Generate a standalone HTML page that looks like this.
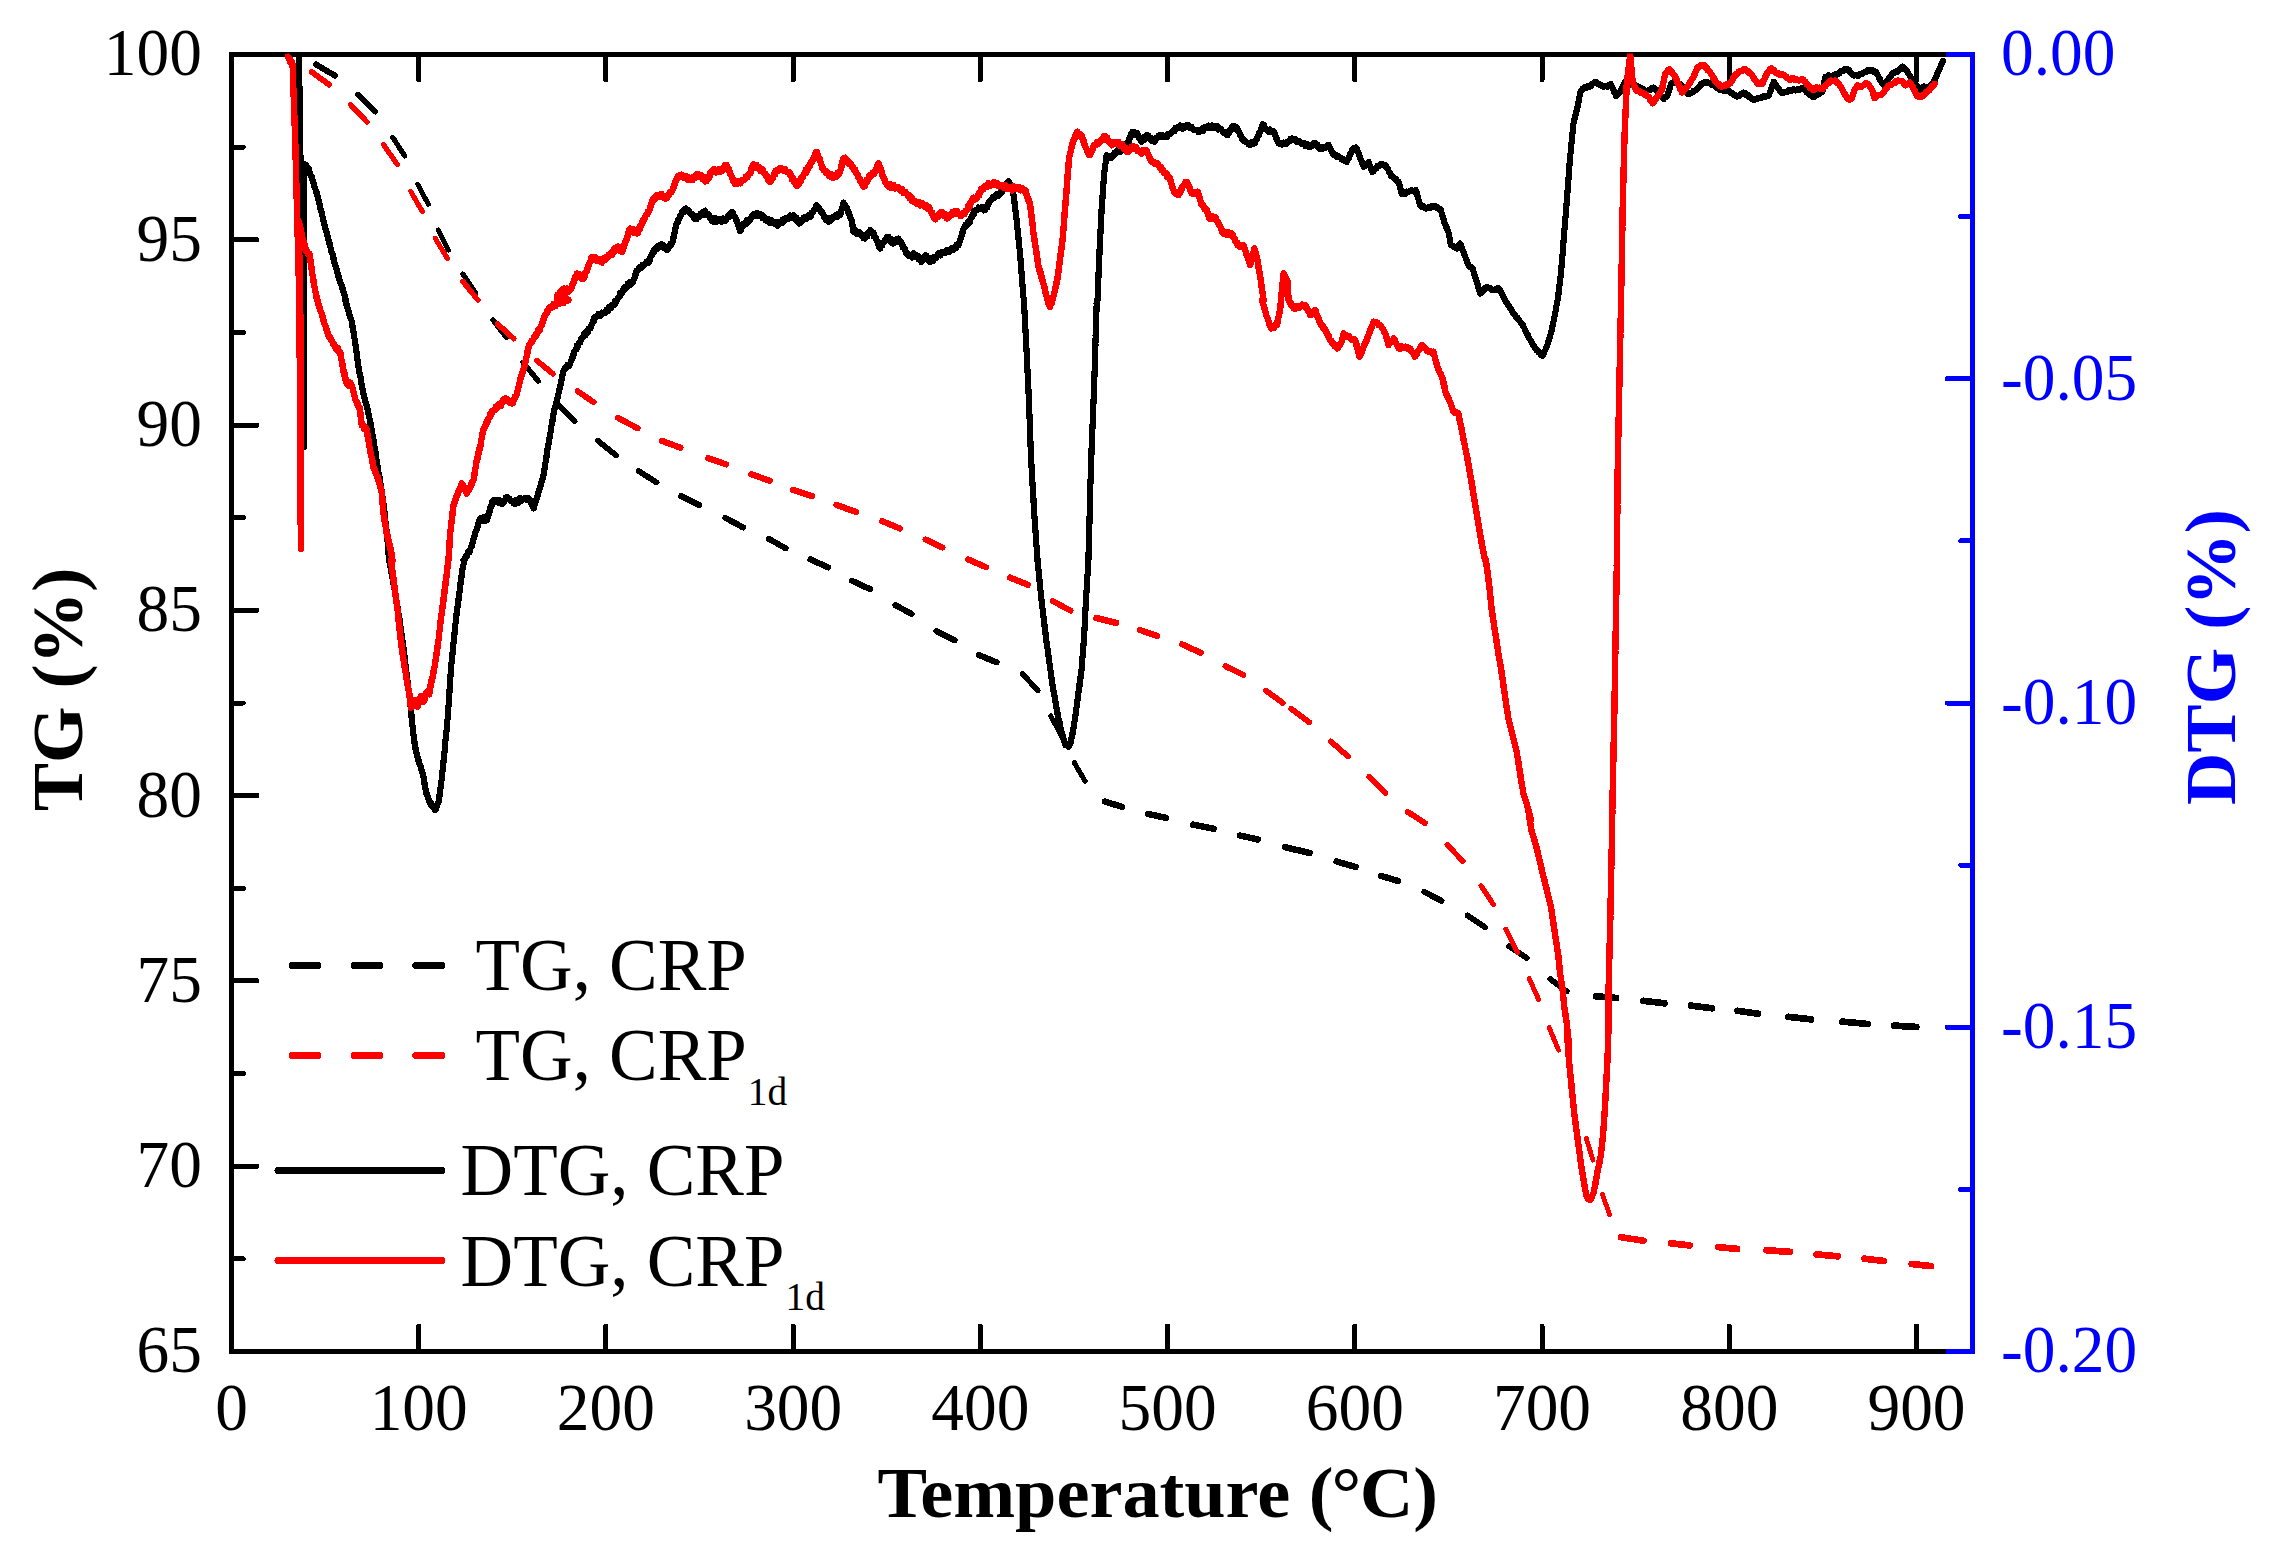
<!DOCTYPE html>
<html lang="en"><head><meta charset="utf-8"><title>TG / DTG curves</title>
<style>
html,body{margin:0;padding:0;background:#fff;}
body{width:2278px;height:1560px;overflow:hidden;}
svg{display:block;}
text{font-family:"Liberation Serif","Times New Roman",serif;}
.tk{font-size:68.5px;}
.lg{font-size:74px;}
.sub{font-size:40px;}
.ttl{font-size:72.5px;font-weight:bold;}
</style></head><body>
<svg width="2278" height="1560" viewBox="0 0 2278 1560">
<rect width="2278" height="1560" fill="#fff"/>
<g id="axes" fill="none" stroke-width="5" stroke-linecap="butt" shape-rendering="crispEdges">
<path d="M231.5 52.0 L231.5 1354.0" stroke="#000"/>
<path d="M229.0 54.5 L1946.0 54.5" stroke="#000"/>
<path d="M229.0 1351.5 L1946.0 1351.5" stroke="#000"/>
<path d="M1972.5 52.0 L1972.5 1354.0" stroke="#00f"/>
<path d="M1946 54.5 L1972.5 54.5 M1946 1351.5 L1972.5 1351.5" stroke="#00f"/>
</g>
<g id="ticks" fill="none" stroke-width="5" stroke-linecap="round" shape-rendering="crispEdges">
<path d="M418.7 54.5 L418.7 80.0 M418.7 1351.5 L418.7 1326.0 M605.9 54.5 L605.9 80.0 M605.9 1351.5 L605.9 1326.0 M793.2 54.5 L793.2 80.0 M793.2 1351.5 L793.2 1326.0 M980.4 54.5 L980.4 80.0 M980.4 1351.5 L980.4 1326.0 M1167.6 54.5 L1167.6 80.0 M1167.6 1351.5 L1167.6 1326.0 M1354.8 54.5 L1354.8 80.0 M1354.8 1351.5 L1354.8 1326.0 M1542.0 54.5 L1542.0 80.0 M1542.0 1351.5 L1542.0 1326.0 M1729.3 54.5 L1729.3 80.0 M1729.3 1351.5 L1729.3 1326.0 M1916.5 54.5 L1916.5 80.0 M1916.5 1351.5 L1916.5 1326.0 M231.5 147.1 L243.3 147.1 M231.5 239.8 L257.0 239.8 M231.5 332.4 L243.3 332.4 M231.5 425.1 L257.0 425.1 M231.5 517.7 L243.3 517.7 M231.5 610.4 L257.0 610.4 M231.5 703.0 L243.3 703.0 M231.5 795.6 L257.0 795.6 M231.5 888.3 L243.3 888.3 M231.5 980.9 L257.0 980.9 M231.5 1073.6 L243.3 1073.6 M231.5 1166.2 L257.0 1166.2 M231.5 1258.9 L243.3 1258.9 " stroke="#000"/>
<path d="M1972.5 216.6 L1960.7 216.6 M1972.5 378.8 L1947.0 378.8 M1972.5 540.9 L1960.7 540.9 M1972.5 703.0 L1947.0 703.0 M1972.5 865.1 L1960.7 865.1 M1972.5 1027.2 L1947.0 1027.2 M1972.5 1189.4 L1960.7 1189.4 " stroke="#00f"/>
</g>
<clipPath id="plotclip"><rect x="231.5" y="53.5" width="1741.0" height="1298.0"/></clipPath>
<g id="curves" clip-path="url(#plotclip)" shape-rendering="crispEdges">
<g fill="none" stroke="#000" stroke-linecap="round">
<path d="M316.0 64.4 L334.9 75.6" stroke-width="6.0"/>
<path d="M358.1 94.4 L375.3 111.6" stroke-width="5.6"/>
<path d="M392.7 137.4 L404.8 155.9" stroke-width="5.2"/>
<path d="M417.6 184.1 L428.3 204.2" stroke-width="5.0"/>
<path d="M438.3 229.9 L448.4 250.1" stroke-width="5.0"/>
<path d="M462.8 274.1 L475.6 292.9" stroke-width="5.2"/>
<path d="M493.0 319.8 L506.5 337.7" stroke-width="5.3"/>
<path d="M523.1 362.4 L538.2 381.1" stroke-width="5.4"/>
<path d="M557.4 404.0 L574.7 421.2" stroke-width="5.6"/>
<path d="M597.7 440.6 L616.2 455.5" stroke-width="5.7"/>
<path d="M638.8 471.2 L656.5 482.4" stroke-width="5.9"/>
<path d="M681.2 496.2 L698.9 505.0" stroke-width="6.1"/>
<path d="M725.3 517.8 L743.2 527.5" stroke-width="6.1"/>
<path d="M768.7 538.8 L785.7 548.3" stroke-width="6.0"/>
<path d="M810.5 559.4 L828.2 567.4" stroke-width="6.2"/>
<path d="M852.2 580.9 L869.9 589.1" stroke-width="6.2"/>
<path d="M895.4 605.2 L911.7 614.0" stroke-width="6.1"/>
<path d="M936.4 631.1 L954.6 640.2" stroke-width="6.1"/>
<path d="M978.7 655.0 L996.5 662.3" stroke-width="6.2"/>
<path d="M1022.5 674.0 L1037.8 690.4" stroke-width="5.5"/>
<path d="M1050.8 715.9 L1062.6 738.5" stroke-width="5.0"/>
<path d="M1074.3 762.6 L1085.0 781.1" stroke-width="5.1"/>
<path d="M1104.8 801.5 L1122.0 806.8" stroke-width="6.4"/>
<path d="M1148.2 813.9 L1166.1 817.9" stroke-width="6.5"/>
<path d="M1193.3 824.7 L1213.7 828.7" stroke-width="6.6"/>
<path d="M1240.0 835.5 L1257.9 839.5" stroke-width="6.5"/>
<path d="M1285.0 847.2 L1309.6 852.9" stroke-width="6.5"/>
<path d="M1336.6 861.5 L1355.6 867.0" stroke-width="6.4"/>
<path d="M1380.8 875.8 L1398.1 881.0" stroke-width="6.4"/>
<path d="M1424.4 891.9 L1441.5 900.8" stroke-width="6.1"/>
<path d="M1467.6 915.5 L1485.0 927.3" stroke-width="5.9"/>
<path d="M1509.3 946.3 L1526.7 958.1" stroke-width="5.9"/>
<path d="M1550.2 979.0 L1566.8 991.4" stroke-width="5.8"/>
<path d="M1595.9 996.2 L1616.1 998.0" stroke-width="6.7"/>
<path d="M1643.4 1000.8 L1664.5 1003.3" stroke-width="6.7"/>
<path d="M1690.9 1005.6 L1712.0 1008.2" stroke-width="6.7"/>
<path d="M1737.6 1010.8 L1757.8 1013.7" stroke-width="6.7"/>
<path d="M1788.4 1016.8 L1811.1 1019.4" stroke-width="6.7"/>
<path d="M1842.3 1021.6 L1867.8 1024.0" stroke-width="6.7"/>
<path d="M1894.3 1025.6 L1916.2 1027.0" stroke-width="6.8"/>
</g>
<g fill="none" stroke="#f00" stroke-linecap="round">
<path d="M311.7 72.0 L329.1 84.6" stroke-width="5.8"/>
<path d="M350.6 104.7 L366.9 121.9" stroke-width="5.5"/>
<path d="M383.6 144.8 L397.2 164.3" stroke-width="5.3"/>
<path d="M410.9 191.6 L422.4 211.7" stroke-width="5.1"/>
<path d="M435.2 238.3 L447.3 258.4" stroke-width="5.1"/>
<path d="M462.9 281.5 L477.8 300.0" stroke-width="5.4"/>
<path d="M497.5 323.9 L513.7 338.6" stroke-width="5.6"/>
<path d="M536.8 360.5 L552.8 373.7" stroke-width="5.7"/>
<path d="M577.7 391.2 L593.6 402.2" stroke-width="5.9"/>
<path d="M618.0 417.8 L637.6 428.3" stroke-width="6.1"/>
<path d="M662.1 440.9 L680.4 447.7" stroke-width="6.3"/>
<path d="M708.1 458.3 L726.2 464.4" stroke-width="6.3"/>
<path d="M751.3 474.3 L769.7 480.7" stroke-width="6.3"/>
<path d="M793.2 490.0 L812.1 496.1" stroke-width="6.4"/>
<path d="M836.5 505.0 L856.3 512.0" stroke-width="6.3"/>
<path d="M882.3 521.1 L899.8 528.5" stroke-width="6.2"/>
<path d="M925.6 539.5 L942.4 547.5" stroke-width="6.1"/>
<path d="M968.1 559.4 L985.8 567.1" stroke-width="6.2"/>
<path d="M1009.9 577.5 L1027.9 584.7" stroke-width="6.3"/>
<path d="M1052.8 601.0 L1070.6 610.7" stroke-width="6.0"/>
<path d="M1096.5 618.1 L1116.1 622.8" stroke-width="6.5"/>
<path d="M1139.8 629.9 L1157.1 636.0" stroke-width="6.3"/>
<path d="M1182.1 644.3 L1200.6 652.8" stroke-width="6.2"/>
<path d="M1225.5 666.1 L1243.2 674.9" stroke-width="6.1"/>
<path d="M1266.1 690.6 L1282.7 703.0" stroke-width="5.8"/>
<path d="M1291.1 708.8 L1309.4 722.3" stroke-width="5.8"/>
<path d="M1330.9 741.4 L1347.9 756.4" stroke-width="5.7"/>
<path d="M1369.2 776.6 L1385.6 793.0" stroke-width="5.6"/>
<path d="M1407.9 812.0 L1424.9 823.0" stroke-width="5.9"/>
<path d="M1447.3 844.8 L1462.8 861.2" stroke-width="5.5"/>
<path d="M1481.1 885.8 L1493.2 904.3" stroke-width="5.2"/>
<path d="M1505.9 929.2 L1517.6 952.7" stroke-width="5.0"/>
<path d="M1529.1 978.4 L1538.6 999.4" stroke-width="4.9"/>
<path d="M1549.2 1027.6 L1558.5 1050.1" stroke-width="4.9"/>
<path d="M1586.4 1138.5 L1592.9 1160.1" stroke-width="4.8"/>
<path d="M1602.4 1194.2 L1609.5 1214.4" stroke-width="4.8"/>
<path d="M1620.9 1237.2 L1643.4 1240.7" stroke-width="6.6"/>
<path d="M1671.1 1243.3 L1689.6 1245.4" stroke-width="6.7"/>
<path d="M1718.2 1247.1 L1737.2 1248.9" stroke-width="6.7"/>
<path d="M1766.6 1250.2 L1789.9 1251.9" stroke-width="6.8"/>
<path d="M1816.7 1254.4 L1837.6 1256.3" stroke-width="6.7"/>
<path d="M1864.5 1258.7 L1883.7 1261.0" stroke-width="6.7"/>
<path d="M1911.8 1264.0 L1931.1 1266.1" stroke-width="6.7"/>
</g>
<path d="M299.0 54.5 L299.0 56.5 L299.0 58.4 L299.1 60.5 L299.1 62.4 L299.1 64.4 L299.1 66.4 L299.1 68.4 L299.2 70.3 L299.2 72.3 L299.2 74.3 L299.2 76.3 L299.3 78.2 L299.3 80.2 L299.3 82.2 L299.3 84.2 L299.4 86.1 L299.4 88.1 L299.4 90.1 L299.4 92.1 L299.4 94.1 L299.4 96.1 L299.5 98.0 L299.5 100.0 L299.5 102.0 L299.6 103.9 L299.6 105.9 L299.6 107.8 L299.7 109.8 L299.7 111.7 L299.7 113.7 L299.8 115.6 L299.8 117.6 L299.8 119.5 L299.8 121.5 L299.9 123.4 L299.9 125.4 L299.9 127.3 L300.0 129.3 L300.0 131.2 L300.0 133.2 L300.1 135.1 L300.1 137.1 L300.1 139.0 L300.2 141.0 L300.2 142.9 L300.2 144.9 L300.3 146.8 L300.3 148.8 L300.3 150.7 L300.3 152.7 L300.4 154.6 L300.4 156.6 L300.5 158.5 L300.5 160.5 L300.5 162.4 L300.5 164.4 L300.6 166.3 L300.6 168.3 L300.6 170.2 L300.7 172.2 L300.7 174.1 L300.7 176.1 L300.8 178.0 L300.8 180.0 L300.8 182.0 L300.9 183.9 L300.9 185.9 L300.9 187.8 L300.9 189.9 L301.0 191.8 L301.0 193.8 L301.0 195.7 L301.1 197.7 L301.1 199.6 L301.1 201.7 L301.2 203.6 L301.2 205.6 L301.2 207.5 L301.2 209.5 L301.3 211.4 L301.3 213.5 L301.3 215.4 L301.4 217.4 L301.4 219.3 L301.4 221.3 L301.5 223.3 L301.5 225.3 L301.5 227.2 L301.5 229.2 L301.6 231.1 L301.6 233.1 L301.6 235.1 L301.6 237.1 L301.7 239.0 L301.7 241.0 L301.8 242.9 L301.8 244.9 L301.8 246.9 L301.8 248.9 L301.9 250.8 L301.9 252.8 L301.9 254.7 L301.9 256.7 L302.0 258.7 L302.0 260.7 L302.0 262.6 L302.1 264.6 L302.1 266.5 L302.1 268.5 L302.2 270.5 L302.2 272.5 L302.2 274.4 L302.2 276.4 L302.3 278.3 L302.3 280.4 L302.3 282.3 L302.4 284.3 L302.4 286.2 L302.4 288.2 L302.5 290.1 L302.5 292.2 L302.5 294.1 L302.5 296.1 L302.6 298.0 L302.6 300.0 L302.6 302.0 L302.6 304.0 L302.7 306.0 L302.7 307.9 L302.7 309.9 L302.7 311.9 L302.7 313.9 L302.8 315.9 L302.8 317.9 L302.8 319.9 L302.8 321.9 L302.8 323.8 L302.8 325.8 L302.9 327.8 L302.9 329.8 L302.9 331.8 L302.9 333.8 L302.9 335.7 L303.0 337.8 L303.0 339.7 L303.0 341.7 L303.0 343.7 L303.0 345.7 L303.1 347.7 L303.1 349.7 L303.1 351.6 L303.1 353.6 L303.1 355.6 L303.1 357.6 L303.2 359.6 L303.2 361.6 L303.2 363.5 L303.2 365.6 L303.2 367.5 L303.3 369.5 L303.3 371.5 L303.3 373.5 L303.3 375.5 L303.3 377.5 L303.4 379.4 L303.4 381.5 L303.4 383.4 L303.4 385.4 L303.4 387.4 L303.4 389.4 L303.5 391.4 L303.5 393.4 L303.5 395.3 L303.5 397.4 L303.6 399.3 L303.6 401.3 L303.6 403.3 L303.6 405.3 L303.6 407.3 L303.6 409.3 L303.7 411.2 L303.7 413.2 L303.7 415.2 L303.7 417.2 L303.7 419.2 L303.8 421.2 L303.8 423.1 L303.8 425.2 L303.8 427.1 L303.8 429.1 L303.9 431.1 L303.9 433.1 L303.9 435.1 L303.9 437.1 L303.9 439.0 L303.9 441.1 L304.0 443.0 L304.0 445.0 L304.0 447.0 L304.0 445.0 L304.0 443.0 L304.0 441.0 L304.0 439.1 L304.0 437.1 L304.0 435.1 L304.0 433.1 L304.0 431.1 L304.0 429.1 L304.0 427.1 L304.0 425.1 L304.0 423.2 L304.0 421.2 L304.0 419.2 L304.0 417.2 L304.0 415.2 L304.0 413.2 L304.0 411.2 L304.0 409.3 L304.0 407.3 L304.0 405.3 L304.0 403.3 L304.0 401.3 L304.0 399.3 L304.0 397.3 L304.0 395.4 L304.0 393.4 L304.0 391.4 L304.0 389.4 L304.0 387.4 L304.0 385.4 L304.0 383.4 L304.0 381.4 L304.0 379.5 L304.0 377.5 L304.0 375.5 L303.9 373.5 L303.9 371.5 L303.9 369.5 L303.9 367.5 L303.9 365.6 L303.9 363.6 L303.9 361.6 L303.9 359.6 L303.9 357.6 L303.9 355.6 L303.9 353.6 L303.9 351.6 L303.9 349.7 L303.9 347.7 L303.9 345.7 L303.9 343.7 L303.9 341.7 L303.9 339.7 L303.9 337.7 L303.9 335.8 L303.9 333.8 L303.9 331.8 L303.9 329.8 L303.9 327.8 L303.9 325.8 L303.9 323.8 L303.9 321.9 L303.9 319.9 L303.9 317.9 L303.9 315.9 L303.9 313.9 L303.9 311.9 L303.9 309.9 L303.9 307.9 L303.9 306.0 L303.9 304.0 L303.9 302.0 L303.9 300.0 L303.9 298.0 L303.9 296.1 L303.9 294.1 L303.9 292.2 L303.9 290.2 L303.9 288.3 L303.9 286.3 L303.9 284.3 L303.9 282.4 L303.9 280.4 L303.9 278.5 L303.9 276.5 L303.9 274.6 L303.9 272.6 L303.9 270.7 L303.9 268.7 L303.9 266.7 L303.9 264.8 L303.9 262.8 L303.9 260.9 L303.9 258.9 L303.9 257.0 L303.9 255.0 L303.9 253.0 L303.9 251.1 L303.9 249.1 L303.9 247.2 L303.9 245.2 L303.9 243.3 L303.9 241.3 L303.9 239.3 L303.9 237.4 L303.9 235.4 L303.9 233.5 L303.9 231.5 L303.9 229.6 L303.9 227.6 L303.9 225.7 L303.9 223.7 L303.9 221.7 L303.9 219.8 L303.9 217.8 L303.9 215.9 L303.9 213.9 L303.9 212.0 L303.9 210.0 L303.9 208.0 L303.9 206.1 L304.0 204.2 L304.0 202.2 L304.0 200.3 L304.0 198.4 L304.1 196.4 L304.1 194.5 L304.1 192.5 L304.1 190.6 L304.1 188.6 L304.2 186.7 L304.2 184.7 L304.2 182.8 L304.2 180.8 L304.3 178.9 L304.3 176.9 L304.3 175.0 L304.5 173.3 L304.6 171.4 L304.9 169.8 L305.0 167.8 L305.3 166.4 L305.4 164.5 L306.4 165.1 L306.9 167.7 L308.0 168.0 L308.9 169.0 L309.1 172.2 L310.1 172.9 L310.6 175.4 L311.6 176.1 L311.9 179.2 L312.7 180.4 L313.4 181.7 L313.7 184.3 L314.4 185.7 L314.7 188.2 L315.5 189.2 L315.9 191.7 L316.7 192.7 L316.9 195.6 L317.8 196.4 L318.1 199.0 L318.7 200.6 L319.3 202.0 L319.5 204.5 L320.1 205.6 L320.3 208.3 L321.0 209.5 L321.2 212.0 L321.9 213.0 L322.1 215.6 L322.7 216.9 L323.0 219.3 L323.5 220.8 L324.1 222.4 L324.4 224.7 L325.0 226.1 L325.4 228.4 L326.0 229.7 L326.3 232.1 L327.0 233.3 L327.2 236.0 L327.9 237.0 L328.2 239.5 L328.8 241.0 L329.4 242.6 L329.7 245.0 L330.3 246.3 L330.7 248.6 L331.3 249.9 L331.6 252.4 L332.4 253.4 L332.7 255.9 L333.4 257.0 L333.6 259.8 L334.3 260.8 L334.6 263.4 L335.3 264.4 L335.6 266.9 L336.4 267.9 L336.7 270.2 L337.2 272.5 L338.0 273.5 L338.3 276.3 L339.2 277.0 L339.5 279.9 L340.3 280.8 L340.6 283.8 L341.5 284.6 L341.8 287.4 L342.6 288.5 L343.0 291.0 L343.7 292.3 L344.1 294.7 L344.9 295.8 L345.2 298.5 L345.9 300.1 L345.1 300.0 L345.7 301.5 L346.1 303.9 L346.9 304.8 L347.1 307.8 L348.0 308.5 L348.3 311.2 L349.1 312.3 L349.4 314.8 L350.2 315.8 L350.5 318.4 L351.3 319.5 L351.7 321.7 L352.0 323.7 L352.4 325.0 L352.5 327.5 L353.0 328.7 L353.2 331.0 L353.7 332.3 L353.8 334.6 L354.2 336.0 L354.4 338.2 L354.8 339.7 L355.1 341.7 L355.3 343.8 L355.6 345.4 L355.8 347.6 L356.2 349.2 L356.3 351.4 L356.7 353.1 L356.8 355.3 L357.2 356.9 L357.4 359.1 L357.7 360.8 L357.9 363.0 L358.2 364.7 L358.4 366.7 L358.7 368.9 L359.2 370.3 L359.4 372.8 L359.9 374.0 L360.1 376.6 L360.7 377.8 L360.8 380.3 L361.3 381.7 L361.5 384.3 L362.0 385.6 L362.2 388.0 L362.8 389.3 L363.0 391.7 L363.4 393.4 L364.0 394.8 L364.2 397.6 L364.9 398.5 L365.1 401.1 L365.8 402.0 L366.1 404.6 L366.7 405.8 L366.9 408.3 L367.6 409.3 L367.8 412.1 L368.4 413.4 L368.9 414.9 L369.1 417.5 L369.6 418.6 L369.8 421.2 L370.4 422.4 L370.6 424.8 L371.1 426.2 L371.3 428.4 L371.8 430.1 L372.1 431.7 L372.3 433.9 L372.8 435.3 L372.9 437.7 L373.4 438.9 L373.5 441.3 L374.0 442.6 L374.1 444.9 L374.5 446.4 L374.7 448.6 L375.1 450.1 L375.5 451.8 L375.6 454.3 L376.1 455.8 L376.2 458.3 L376.6 459.9 L376.8 462.2 L377.3 463.8 L377.5 466.0 L377.9 467.7 L378.0 470.1 L378.4 471.8 L378.8 473.6 L379.0 476.0 L379.5 477.2 L379.6 479.8 L380.1 481.2 L380.3 483.6 L380.8 485.0 L380.9 487.5 L381.4 488.9 L381.6 491.3 L382.0 492.8 L382.2 495.1 L382.6 496.8 L382.9 498.5 L383.0 500.7 L383.3 502.1 L383.5 504.3 L383.8 505.8 L383.9 507.9 L384.2 509.4 L384.4 511.6 L384.7 513.0 L384.8 515.3 L385.1 516.9 L385.3 518.7 L385.4 520.9 L385.7 522.5 L385.8 524.7 L386.1 526.4 L386.2 528.6 L386.5 530.2 L386.6 532.5 L386.9 534.0 L387.0 536.2 L387.3 537.9 L387.4 540.1 L387.6 541.9 L387.8 543.5 L387.8 545.6 L388.0 547.2 L388.1 549.2 L388.3 550.8 L388.4 552.9 L388.6 554.5 L388.6 556.5 L388.8 558.1 L388.9 560.1 L389.3 560.0 L389.5 562.3 L390.0 563.6 L390.2 566.0 L390.7 567.3 L390.9 569.8 L391.4 571.1 L391.6 573.5 L392.1 574.8 L392.3 577.3 L392.7 578.8 L393.0 581.0 L393.4 582.5 L393.6 584.9 L394.1 586.3 L394.3 588.6 L394.8 590.1 L395.0 592.4 L395.5 593.8 L395.7 596.2 L396.2 597.6 L396.3 600.2 L396.8 601.7 L397.1 603.5 L397.3 605.9 L397.7 607.3 L397.9 609.9 L398.3 611.3 L398.5 613.7 L398.9 615.2 L399.0 617.7 L399.5 619.1 L399.7 621.5 L400.1 623.1 L400.3 625.4 L400.6 627.1 L400.9 629.3 L401.3 630.8 L401.4 633.3 L401.8 635.1 L402.1 636.8 L402.2 639.1 L402.6 640.8 L402.7 643.1 L403.0 644.7 L403.2 647.0 L403.6 648.5 L403.7 651.0 L404.1 652.5 L404.2 654.9 L404.6 656.4 L404.6 658.9 L405.0 660.4 L405.2 662.8 L405.5 664.4 L405.6 666.7 L406.0 668.4 L406.3 670.2 L406.4 672.6 L406.8 674.1 L406.9 676.4 L407.2 678.1 L407.3 680.5 L407.7 682.0 L407.9 684.3 L408.2 685.9 L408.4 688.2 L408.7 689.8 L408.8 692.2 L409.2 693.8 L409.3 696.1 L409.7 697.7 L409.8 700.0 L410.1 701.8 L410.4 703.6 L410.5 705.8 L410.7 707.6 L410.9 709.7 L411.2 711.4 L411.3 713.7 L411.5 715.4 L411.6 717.7 L412.0 719.2 L412.0 721.6 L412.3 723.3 L412.4 725.4 L412.7 727.2 L412.8 729.4 L413.1 731.1 L413.2 733.3 L413.5 735.2 L413.8 736.8 L413.9 739.1 L414.4 740.4 L414.5 742.8 L414.9 744.2 L415.1 746.5 L415.5 747.9 L415.6 750.2 L416.0 751.8 L416.7 753.4 L417.1 755.9 L417.8 757.2 L418.2 760.1 L419.0 761.1 L419.4 763.7 L420.1 765.2 L420.7 766.4 L420.9 769.1 L421.6 769.9 L421.9 772.2 L422.6 773.2 L422.9 775.6 L423.5 776.9 L423.8 778.4 L423.9 780.8 L424.4 781.9 L424.5 784.3 L424.9 785.7 L425.1 787.7 L425.5 789.4 L426.2 790.7 L426.4 793.6 L427.3 794.4 L427.6 797.1 L428.3 798.2 L428.8 800.2 L429.6 802.5 L431.0 802.3 L431.4 806.0 L432.6 806.5 L434.1 805.9 L434.7 810.0 L436.1 809.2 L436.6 807.1 L437.3 805.9 L437.7 803.5 L438.4 802.4 L438.8 800.2 L439.0 798.1 L439.4 796.8 L439.5 794.4 L439.9 793.0 L440.0 790.7 L440.4 789.3 L440.6 787.0 L440.9 785.5 L441.2 783.5 L441.3 781.4 L441.6 779.9 L441.7 777.7 L442.0 776.2 L442.2 774.0 L442.4 772.4 L442.6 770.3 L442.8 768.5 L443.1 766.8 L443.1 764.6 L443.4 763.0 L443.5 761.0 L443.8 759.4 L443.9 757.2 L444.2 755.7 L444.3 753.6 L444.5 751.8 L444.7 750.3 L444.7 748.4 L444.9 746.9 L445.0 745.0 L445.2 743.5 L445.4 741.8 L445.5 739.5 L445.8 737.9 L445.9 735.7 L446.1 734.0 L446.3 731.8 L446.6 730.2 L446.6 727.9 L446.9 726.3 L447.1 724.2 L447.3 722.5 L447.4 720.2 L447.7 718.5 L447.8 716.6 L447.9 714.5 L448.1 712.8 L448.1 710.6 L448.3 708.9 L448.4 706.9 L448.6 705.1 L448.7 703.0 L448.8 701.3 L448.9 699.2 L449.1 697.4 L449.2 695.3 L449.3 693.5 L449.5 691.6 L449.6 689.5 L449.8 687.8 L449.8 685.7 L450.0 684.0 L450.1 681.8 L450.2 680.0 L450.3 677.9 L450.5 676.2 L450.6 674.1 L450.8 672.4 L450.8 670.3 L451.0 668.4 L451.2 666.6 L451.3 664.4 L451.6 662.8 L451.7 660.5 L452.0 658.9 L452.1 656.7 L452.4 655.1 L452.5 652.8 L452.8 651.2 L452.9 649.1 L453.1 647.3 L453.3 645.2 L453.5 643.4 L453.7 641.7 L453.8 639.4 L454.1 637.8 L454.2 635.5 L454.5 634.0 L454.6 631.7 L454.9 630.0 L455.0 627.8 L455.3 626.3 L455.4 624.1 L455.7 622.4 L455.8 620.2 L456.0 618.4 L456.3 616.6 L456.5 614.4 L456.8 612.7 L457.0 610.6 L457.3 608.9 L457.5 606.7 L457.9 605.2 L458.0 602.9 L458.4 601.3 L458.5 599.0 L458.9 597.4 L459.0 595.0 L459.3 593.4 L459.6 591.8 L459.7 589.6 L460.0 588.0 L460.2 585.9 L460.5 584.4 L460.6 582.2 L461.0 580.8 L461.1 578.6 L461.5 577.2 L461.6 575.1 L461.8 573.3 L462.3 571.7 L462.4 569.2 L463.0 568.0 L463.2 565.6 L463.7 564.0 L463.9 561.7 L464.3 560.0 L463.5 560.1 L464.9 559.6 L465.6 556.1 L467.1 556.2 L467.7 552.3 L469.2 552.6 L470.2 550.2 L470.6 548.0 L471.5 547.1 L471.7 544.2 L472.5 543.1 L472.8 540.4 L473.6 539.4 L474.0 536.9 L474.7 535.6 L475.2 533.5 L475.6 531.1 L476.6 530.4 L476.9 527.4 L477.9 526.7 L478.2 523.9 L479.0 522.6 L479.4 519.9 L480.2 518.5 L481.7 521.0 L483.7 517.3 L485.1 521.1 L486.9 520.2 L487.3 518.0 L488.1 516.9 L488.4 514.2 L489.3 513.4 L489.6 510.6 L490.4 509.6 L490.6 506.7 L491.5 505.9 L491.9 503.5 L492.5 501.0 L493.5 500.2 L495.1 502.2 L497.0 499.8 L498.4 502.6 L500.3 500.6 L501.7 504.1 L503.5 502.7 L504.3 500.8 L505.3 500.3 L505.8 497.4 L506.9 496.8 L508.0 499.0 L509.7 498.9 L510.8 501.4 L512.4 501.1 L513.5 503.5 L515.4 503.8 L516.6 499.9 L518.8 502.8 L520.0 498.2 L522.0 500.4 L523.6 498.5 L525.3 498.1 L526.8 500.2 L528.7 498.3 L530.2 500.2 L530.7 502.5 L531.7 503.0 L532.1 505.6 L533.0 506.3 L533.6 508.5 L534.3 507.1 L534.5 504.3 L535.4 503.5 L535.6 500.5 L536.5 499.7 L536.8 497.1 L537.6 496.1 L537.9 493.3 L538.6 491.8 L539.3 490.4 L539.6 487.8 L540.4 486.8 L540.7 484.1 L541.4 482.9 L541.8 480.4 L542.5 479.1 L542.8 476.4 L543.6 475.2 L543.9 473.4 L544.1 471.0 L544.5 469.4 L544.7 466.9 L545.2 465.5 L545.3 463.2 L545.8 461.6 L545.9 459.1 L546.4 457.7 L546.6 455.3 L546.9 453.5 L547.3 451.9 L547.4 449.5 L547.9 448.3 L548.0 445.8 L548.5 444.5 L548.7 442.4 L549.1 440.9 L549.3 438.7 L549.7 437.4 L549.9 435.0 L550.2 433.5 L550.7 432.0 L550.8 429.6 L551.3 428.3 L551.4 425.9 L551.8 424.5 L552.0 422.2 L552.5 421.1 L552.6 418.7 L553.1 417.3 L553.2 415.0 L553.6 413.4 L554.1 411.9 L554.4 409.5 L555.0 408.2 L555.3 405.9 L555.9 404.6 L556.2 402.1 L556.9 401.1 L557.1 398.6 L557.7 397.2 L558.0 394.9 L558.6 393.4 L559.1 391.8 L559.4 389.3 L559.9 387.8 L560.2 385.4 L560.8 384.1 L561.0 381.4 L561.6 380.0 L561.9 377.7 L562.4 376.2 L562.7 373.6 L563.3 372.4 L563.6 370.1 L564.8 368.1 L566.4 368.1 L567.3 364.8 L569.1 365.7 L570.3 363.4 L570.8 361.3 L571.6 360.5 L571.9 357.6 L572.9 357.1 L573.2 354.5 L574.1 353.8 L574.5 351.2 L575.3 350.0 L576.5 349.4 L576.9 345.6 L578.3 345.7 L578.9 342.8 L580.3 342.6 L580.8 339.5 L581.9 338.4 L583.2 337.4 L584.0 334.2 L585.7 335.0 L586.4 331.4 L588.1 332.1 L588.8 328.5 L590.3 328.4 L591.2 327.3 L591.6 324.6 L592.5 323.7 L593.0 321.1 L594.0 320.7 L594.3 317.5 L595.3 316.7 L597.0 316.8 L598.4 313.8 L600.4 315.9 L601.8 312.6 L603.6 313.3 L605.2 312.9 L606.3 310.1 L608.1 310.9 L609.0 307.0 L610.9 308.1 L612.0 305.1 L613.6 305.0 L614.7 304.8 L615.0 301.3 L616.3 301.8 L617.0 300.0 L617.7 298.0 L618.6 296.9 L619.9 296.6 L620.2 292.8 L621.7 293.4 L622.3 290.7 L623.7 290.9 L624.2 287.6 L625.3 286.9 L627.0 287.4 L627.8 283.4 L629.8 285.1 L630.7 281.7 L632.5 282.8 L633.7 280.2 L634.1 278.2 L634.9 277.3 L635.1 274.6 L636.1 274.2 L636.3 271.5 L637.0 270.2 L638.5 269.9 L639.6 266.9 L641.4 268.0 L642.4 264.7 L644.1 265.4 L645.3 263.5 L646.7 261.5 L648.7 262.8 L650.0 260.2 L650.0 258.5 L650.6 255.9 L651.8 255.6 L652.3 252.8 L653.6 252.7 L654.1 249.8 L655.0 248.5 L656.9 249.1 L658.2 245.6 L660.2 246.8 L661.7 244.3 L663.2 244.8 L663.9 248.3 L665.6 247.9 L666.7 250.2 L667.8 249.6 L668.4 246.5 L669.8 246.8 L670.3 243.6 L671.7 244.0 L672.5 241.8 L672.8 239.7 L673.4 238.4 L673.7 236.0 L674.3 234.8 L674.5 232.4 L675.1 231.2 L675.3 228.6 L675.9 227.5 L676.2 225.1 L676.7 223.5 L677.7 222.5 L678.2 219.7 L679.3 218.9 L679.9 216.2 L681.0 215.6 L681.7 213.5 L682.5 211.3 L684.0 211.9 L684.7 209.2 L685.9 208.5 L687.1 211.0 L688.9 210.3 L690.0 213.6 L691.7 213.5 L692.8 214.0 L693.2 217.1 L694.3 217.4 L695.0 219.3 L696.7 219.2 L697.6 215.8 L699.5 217.2 L700.5 213.6 L702.3 214.6 L703.4 211.8 L705.3 210.7 L706.5 215.1 L708.4 214.3 L709.5 215.1 L709.9 218.1 L711.1 218.4 L711.7 221.0 L713.5 222.0 L714.9 218.1 L716.9 221.8 L718.4 219.3 L720.1 218.8 L721.6 222.0 L723.5 218.5 L725.1 221.0 L726.3 220.0 L727.1 217.2 L728.7 217.5 L729.4 214.3 L730.9 214.6 L731.7 211.8 L732.9 212.9 L733.6 216.2 L735.0 216.3 L735.9 218.5 L736.4 220.7 L737.3 221.4 L737.6 224.2 L738.4 225.3 L738.8 227.9 L739.6 228.8 L740.1 231.0 L741.0 229.9 L741.6 227.5 L742.7 227.0 L743.1 224.0 L744.2 223.5 L745.9 224.2 L746.9 220.0 L748.8 221.9 L750.1 220.2 L750.7 217.8 L751.9 217.7 L752.4 215.0 L753.4 214.3 L755.1 216.0 L756.8 213.0 L758.4 216.3 L760.1 214.3 L761.7 214.5 L762.5 218.1 L764.4 216.9 L765.3 220.3 L766.8 221.0 L768.5 219.0 L770.0 223.1 L771.8 220.3 L773.4 221.8 L774.7 224.2 L776.5 222.0 L777.6 225.7 L779.3 224.3 L780.3 222.0 L782.0 223.1 L782.8 219.6 L784.5 220.9 L785.4 218.0 L786.8 217.7 L788.6 218.7 L790.0 215.6 L792.0 217.6 L793.5 215.2 L794.6 215.9 L795.2 218.9 L796.7 218.1 L797.1 221.6 L798.6 221.1 L799.3 223.5 L800.6 223.0 L801.5 220.3 L802.9 220.0 L803.8 217.5 L805.1 216.8 L806.8 218.5 L808.5 215.4 L810.1 216.8 L811.3 215.9 L811.8 212.5 L813.1 212.3 L813.8 209.6 L815.1 209.3 L815.8 206.4 L816.8 205.1 L817.7 207.0 L818.9 207.3 L819.5 209.9 L820.8 210.2 L821.4 212.9 L822.8 212.8 L823.5 215.2 L824.3 217.5 L825.6 217.2 L826.2 220.2 L827.7 219.6 L828.5 221.8 L829.9 221.3 L830.7 217.8 L832.4 218.9 L833.5 216.8 L835.1 215.5 L836.9 216.9 L838.4 213.9 L840.2 215.2 L840.8 213.9 L841.0 211.1 L841.7 210.1 L842.0 207.7 L842.6 206.4 L842.9 204.0 L843.5 202.6 L844.1 204.9 L845.3 205.0 L845.8 208.0 L847.0 208.0 L847.7 210.1 L848.1 212.5 L849.0 212.9 L849.4 215.5 L850.3 216.1 L850.6 218.8 L851.4 219.6 L851.8 221.8 L852.1 223.7 L852.5 225.0 L852.6 227.0 L853.0 228.2 L853.2 230.3 L853.5 231.8 L855.2 230.3 L856.8 234.0 L858.5 231.8 L860.0 232.5 L861.0 235.3 L862.8 234.7 L863.6 238.2 L865.2 238.5 L866.0 236.0 L867.4 236.2 L868.1 233.0 L869.4 232.5 L870.2 230.2 L871.4 230.8 L872.1 233.3 L873.5 232.9 L873.9 236.6 L875.2 236.8 L876.1 237.8 L876.5 240.5 L877.6 241.1 L877.9 244.2 L878.9 244.6 L879.3 247.6 L880.2 248.5 L881.0 246.1 L882.2 245.7 L882.9 243.1 L884.2 242.4 L884.9 239.8 L886.1 239.1 L886.9 236.8 L888.5 236.9 L889.3 240.8 L891.2 239.4 L891.9 243.4 L893.5 243.5 L894.6 241.4 L896.3 242.1 L897.1 238.8 L898.6 238.5 L899.3 241.1 L900.7 241.1 L901.3 244.1 L902.6 244.3 L903.0 247.9 L904.4 248.0 L905.2 250.2 L905.8 252.7 L907.0 252.7 L907.6 255.1 L908.6 256.0 L910.2 254.8 L912.0 257.5 L913.5 253.4 L915.3 257.2 L916.9 255.2 L918.1 256.2 L918.7 259.6 L920.2 259.5 L921.1 261.9 L922.3 260.8 L922.9 257.4 L924.4 257.7 L925.2 255.2 L926.5 255.5 L927.0 258.9 L928.6 257.9 L929.0 261.4 L930.2 261.9 L931.3 259.2 L933.2 260.9 L934.0 256.9 L935.8 258.2 L936.9 256.0 L938.3 253.4 L940.5 255.3 L941.8 251.9 L943.6 251.9 L945.3 252.7 L946.9 249.8 L948.6 252.1 L950.3 251.0 L951.4 248.3 L953.2 249.9 L954.3 247.4 L956.0 247.9 L956.9 244.4 L958.6 245.2 L959.3 243.7 L959.6 241.2 L960.3 239.9 L960.8 237.5 L961.5 236.4 L961.8 233.6 L962.6 232.7 L962.9 229.8 L963.6 228.5 L964.8 227.6 L965.6 224.7 L967.1 225.1 L967.8 221.7 L969.5 222.8 L970.3 220.2 L970.9 217.6 L972.1 217.2 L972.5 214.3 L973.9 214.4 L974.2 210.9 L975.3 210.1 L977.1 210.1 L978.5 207.5 L980.4 208.5 L982.0 206.8 L983.2 207.3 L983.9 210.4 L985.3 210.1 L985.9 207.6 L987.2 207.6 L987.6 204.3 L988.8 204.2 L989.3 201.3 L990.3 200.1 L991.7 199.5 L992.7 197.0 L994.3 197.7 L995.3 195.1 L996.9 193.8 L998.7 195.8 L1000.3 194.3 L1001.2 191.9 L1002.5 191.4 L1003.3 188.7 L1004.6 188.3 L1005.3 185.0 L1006.7 185.0 L1007.4 182.0 L1008.6 181.0 L1009.1 183.4 L1010.0 184.0 L1010.3 186.9 L1011.3 187.5 L1011.7 190.1 L1012.5 191.1 L1012.9 193.8 L1013.7 195.1 L1013.9 196.8 L1014.1 199.1 L1014.4 200.6 L1014.5 202.9 L1014.8 204.5 L1014.9 206.7 L1015.2 208.3 L1015.4 210.5 L1015.7 212.0 L1015.8 214.1 L1016.1 215.8 L1016.3 218.0 L1016.6 219.5 L1016.7 221.7 L1017.0 223.5 L1017.2 225.3 L1017.3 227.6 L1017.6 229.2 L1017.7 231.4 L1018.0 233.2 L1018.1 235.4 L1018.4 237.0 L1018.5 239.3 L1018.8 240.9 L1018.9 243.2 L1019.2 245.0 L1019.3 247.2 L1019.6 248.9 L1019.7 251.1 L1020.0 252.8 L1020.1 255.0 L1020.3 256.9 L1020.5 258.7 L1020.6 260.9 L1020.8 262.6 L1020.9 264.8 L1021.1 266.6 L1021.2 268.7 L1021.4 270.5 L1021.5 272.7 L1021.7 274.5 L1021.8 276.7 L1022.0 278.4 L1022.1 280.5 L1022.3 282.3 L1022.4 284.5 L1022.6 286.2 L1022.7 288.4 L1022.9 290.1 L1023.0 292.3 L1023.2 294.1 L1023.3 296.3 L1023.6 298.0 L1023.7 300.1 L1023.9 300.0 L1024.0 302.0 L1024.1 303.8 L1024.2 305.8 L1024.3 307.6 L1024.4 309.7 L1024.5 311.4 L1024.6 313.6 L1024.7 315.3 L1024.8 317.4 L1024.9 319.2 L1025.0 321.3 L1025.1 323.0 L1025.2 325.0 L1025.3 326.8 L1025.4 329.0 L1025.5 330.7 L1025.6 332.7 L1025.7 334.6 L1025.8 336.6 L1025.9 338.4 L1026.0 340.4 L1026.1 342.3 L1026.2 344.3 L1026.3 346.1 L1026.4 348.2 L1026.5 350.0 L1026.6 351.9 L1026.7 353.9 L1026.8 355.7 L1026.8 357.8 L1027.0 359.5 L1027.0 361.6 L1027.2 363.4 L1027.2 365.4 L1027.3 367.2 L1027.4 369.3 L1027.5 371.1 L1027.6 373.2 L1027.7 374.9 L1027.8 377.0 L1027.9 378.8 L1028.0 380.8 L1028.1 382.6 L1028.1 384.7 L1028.3 386.5 L1028.3 388.5 L1028.5 390.3 L1028.5 392.4 L1028.6 394.2 L1028.7 396.2 L1028.8 398.0 L1028.9 400.0 L1029.0 402.0 L1029.1 403.8 L1029.1 405.9 L1029.2 407.7 L1029.2 409.8 L1029.3 411.6 L1029.4 413.6 L1029.5 415.4 L1029.5 417.5 L1029.6 419.3 L1029.7 421.4 L1029.8 423.2 L1029.8 425.2 L1029.9 427.0 L1029.9 429.1 L1030.1 430.9 L1030.1 433.0 L1030.2 434.8 L1030.2 436.8 L1030.3 438.6 L1030.4 440.7 L1030.5 442.5 L1030.5 444.6 L1030.6 446.4 L1030.7 448.4 L1030.8 450.3 L1030.8 452.3 L1030.9 454.1 L1030.9 456.2 L1031.0 458.0 L1031.1 460.0 L1031.2 462.0 L1031.4 463.7 L1031.4 465.8 L1031.6 467.6 L1031.6 469.7 L1031.8 471.5 L1031.9 473.5 L1032.0 475.3 L1032.1 477.4 L1032.2 479.1 L1032.3 481.2 L1032.5 483.0 L1032.5 485.1 L1032.7 486.8 L1032.8 488.9 L1032.9 490.7 L1033.0 492.8 L1033.1 494.5 L1033.2 496.6 L1033.4 498.4 L1033.4 500.5 L1033.6 502.2 L1033.6 504.3 L1033.8 506.0 L1033.9 508.1 L1034.0 510.0 L1034.2 511.8 L1034.2 513.9 L1034.4 515.6 L1034.5 517.8 L1034.7 519.5 L1034.8 521.6 L1035.0 523.4 L1035.1 525.5 L1035.2 527.2 L1035.3 529.3 L1035.5 531.1 L1035.6 533.2 L1035.8 534.9 L1035.9 537.0 L1036.0 538.8 L1036.1 540.8 L1036.3 542.6 L1036.4 544.8 L1036.6 546.4 L1036.7 548.5 L1036.9 550.3 L1036.9 552.4 L1037.1 554.2 L1037.2 556.2 L1037.4 557.9 L1037.5 560.0 L1037.5 560.0 L1037.6 562.2 L1038.0 563.8 L1038.1 566.1 L1038.3 567.8 L1038.5 570.0 L1038.8 571.7 L1038.9 574.0 L1039.1 575.7 L1039.2 578.1 L1039.5 579.7 L1039.6 582.0 L1039.9 583.7 L1040.0 586.0 L1040.3 587.7 L1040.4 590.0 L1040.7 591.6 L1040.8 594.0 L1041.1 595.6 L1041.2 597.9 L1041.5 599.6 L1041.7 601.7 L1041.9 603.8 L1042.2 605.4 L1042.3 607.5 L1042.7 609.1 L1042.8 611.3 L1043.1 612.9 L1043.2 615.1 L1043.5 616.7 L1043.7 618.9 L1044.0 620.5 L1044.1 622.8 L1044.5 624.3 L1044.6 626.6 L1044.9 628.0 L1045.1 630.2 L1045.4 631.8 L1045.5 634.2 L1045.8 635.6 L1046.0 637.8 L1046.3 639.4 L1046.4 641.7 L1046.7 643.4 L1047.0 645.2 L1047.2 647.3 L1047.6 648.8 L1047.7 651.2 L1048.1 652.7 L1048.2 654.9 L1048.6 656.5 L1048.8 658.7 L1049.1 660.2 L1049.3 662.5 L1049.6 664.1 L1049.8 666.4 L1050.2 667.8 L1050.4 670.1 L1050.7 671.6 L1050.9 674.0 L1051.3 675.4 L1051.4 677.8 L1051.8 679.1 L1051.9 681.6 L1052.3 682.9 L1052.5 685.1 L1052.8 687.3 L1053.3 688.7 L1053.5 691.3 L1054.0 692.6 L1054.2 695.2 L1054.7 696.5 L1054.8 699.1 L1055.3 700.6 L1055.6 703.0 L1056.0 704.6 L1056.2 707.0 L1056.7 708.5 L1056.9 710.9 L1057.4 712.4 L1057.6 714.8 L1058.1 716.3 L1058.4 718.5 L1058.7 720.7 L1059.4 721.6 L1059.7 724.1 L1060.3 725.3 L1060.5 727.9 L1061.2 729.0 L1061.4 731.6 L1062.1 732.6 L1062.4 735.2 L1063.0 736.3 L1063.4 738.5 L1063.7 740.8 L1064.5 741.6 L1064.8 744.0 L1065.5 745.2 L1067.2 744.5 L1068.4 746.8 L1069.1 745.7 L1069.5 743.2 L1070.6 743.2 L1071.0 741.0 L1071.3 738.8 L1071.8 737.6 L1071.9 735.2 L1072.5 734.0 L1072.6 731.7 L1073.0 730.1 L1073.5 728.6 L1073.7 726.1 L1074.1 724.6 L1074.3 722.1 L1074.8 720.6 L1075.0 718.5 L1075.2 716.3 L1075.6 714.8 L1075.8 712.5 L1076.1 711.0 L1076.2 708.6 L1076.6 707.1 L1076.8 704.8 L1077.1 703.3 L1077.3 700.9 L1077.7 699.5 L1077.8 697.1 L1078.2 695.6 L1078.4 693.5 L1078.6 691.3 L1078.9 689.8 L1079.1 687.5 L1079.5 685.9 L1079.6 683.5 L1080.0 682.1 L1080.1 679.7 L1080.5 678.2 L1080.6 676.0 L1081.0 674.4 L1081.1 672.1 L1081.5 670.6 L1081.7 668.4 L1081.8 666.3 L1082.0 664.6 L1082.1 662.4 L1082.3 660.7 L1082.4 658.5 L1082.6 656.7 L1082.7 654.6 L1082.9 652.8 L1083.0 650.7 L1083.2 649.0 L1083.3 646.7 L1083.5 645.0 L1083.6 642.8 L1083.8 641.1 L1083.9 638.9 L1084.1 637.2 L1084.2 635.1 L1084.3 633.0 L1084.4 631.2 L1084.5 629.1 L1084.6 627.3 L1084.7 625.2 L1084.8 623.4 L1084.9 621.3 L1085.0 619.5 L1085.1 617.4 L1085.2 615.5 L1085.3 613.4 L1085.4 611.6 L1085.5 609.4 L1085.6 607.7 L1085.7 605.6 L1085.8 603.8 L1085.9 601.7 L1086.0 599.6 L1086.1 597.8 L1086.2 595.7 L1086.4 593.8 L1086.5 591.7 L1086.6 589.9 L1086.7 587.7 L1086.9 585.9 L1086.9 583.7 L1087.1 581.9 L1087.2 579.8 L1087.3 577.9 L1087.4 575.8 L1087.6 574.0 L1087.6 571.8 L1087.8 570.1 L1087.9 567.9 L1088.0 566.0 L1088.1 563.9 L1088.3 562.1 L1088.4 560.0 L1088.4 558.0 L1088.5 556.1 L1088.5 554.0 L1088.6 552.1 L1088.6 550.1 L1088.7 548.1 L1088.7 546.1 L1088.8 544.2 L1088.9 542.1 L1088.9 540.2 L1089.0 538.1 L1089.0 536.2 L1089.1 534.2 L1089.1 532.3 L1089.2 530.2 L1089.2 528.3 L1089.3 526.3 L1089.4 524.4 L1089.4 522.3 L1089.5 520.4 L1089.5 518.3 L1089.6 516.4 L1089.6 514.3 L1089.7 512.5 L1089.7 510.4 L1089.8 508.5 L1089.8 506.4 L1089.9 504.5 L1089.9 502.5 L1090.0 500.6 L1090.0 498.5 L1090.1 496.6 L1090.1 494.5 L1090.2 492.6 L1090.2 490.6 L1090.3 488.6 L1090.3 486.6 L1090.4 484.7 L1090.5 482.7 L1090.5 480.7 L1090.6 478.7 L1090.6 476.8 L1090.7 474.7 L1090.7 472.8 L1090.8 470.8 L1090.8 468.8 L1090.9 466.8 L1090.9 464.8 L1091.1 462.9 L1091.1 460.8 L1091.2 458.9 L1091.3 456.8 L1091.4 454.9 L1091.4 452.8 L1091.5 451.0 L1091.6 448.9 L1091.7 447.0 L1091.7 444.9 L1091.9 443.1 L1091.9 440.9 L1092.0 439.1 L1092.1 437.0 L1092.2 435.1 L1092.2 433.0 L1092.3 431.1 L1092.4 429.0 L1092.5 427.1 L1092.5 425.0 L1092.7 423.2 L1092.7 421.1 L1092.8 419.2 L1092.9 417.1 L1093.0 415.2 L1093.0 413.1 L1093.1 411.3 L1093.2 409.2 L1093.3 407.3 L1093.3 405.2 L1093.5 403.3 L1093.5 401.2 L1093.6 399.3 L1093.7 397.3 L1093.8 395.4 L1093.8 393.3 L1093.9 391.4 L1094.0 389.3 L1094.1 387.4 L1094.1 385.3 L1094.2 383.4 L1094.3 381.5 L1094.3 379.4 L1094.4 377.5 L1094.5 375.4 L1094.5 373.5 L1094.6 371.4 L1094.7 369.6 L1094.7 367.5 L1094.8 365.6 L1094.8 363.5 L1094.9 361.6 L1094.9 359.5 L1095.0 357.6 L1095.0 355.5 L1095.1 353.7 L1095.2 351.6 L1095.3 349.7 L1095.3 347.6 L1095.4 345.7 L1095.4 343.7 L1095.5 341.7 L1095.5 339.7 L1095.6 337.8 L1095.6 335.7 L1095.7 333.8 L1095.8 331.7 L1095.8 329.8 L1095.9 327.8 L1096.0 325.9 L1096.0 323.8 L1096.1 321.9 L1096.1 319.8 L1096.2 317.9 L1096.2 315.8 L1096.3 313.9 L1096.4 311.9 L1096.4 310.0 L1096.5 307.9 L1096.6 306.0 L1096.6 303.9 L1096.7 302.0 L1096.7 300.0 L1097.6 300.1 L1097.6 298.0 L1097.7 296.2 L1097.8 294.1 L1097.9 292.3 L1097.9 290.2 L1098.0 288.3 L1098.1 286.2 L1098.2 284.4 L1098.2 282.3 L1098.3 280.5 L1098.4 278.4 L1098.5 276.6 L1098.5 274.5 L1098.6 272.6 L1098.7 270.5 L1098.8 268.7 L1098.8 266.6 L1098.9 264.8 L1099.0 262.7 L1099.1 260.9 L1099.1 258.8 L1099.2 256.9 L1099.4 255.0 L1099.4 252.9 L1099.5 251.2 L1099.6 249.1 L1099.7 247.3 L1099.8 245.3 L1099.9 243.4 L1100.0 241.4 L1100.1 239.6 L1100.2 237.6 L1100.3 235.8 L1100.4 233.7 L1100.5 231.9 L1100.5 229.8 L1100.7 228.1 L1100.8 226.0 L1100.9 224.2 L1100.9 222.1 L1101.1 220.3 L1101.1 218.3 L1101.3 216.5 L1101.3 214.4 L1101.5 212.7 L1101.5 210.6 L1101.7 208.8 L1101.7 206.8 L1101.8 204.8 L1102.1 203.0 L1102.1 200.9 L1102.4 199.1 L1102.4 196.8 L1102.6 195.1 L1102.7 193.0 L1102.9 191.2 L1103.0 189.1 L1103.2 187.3 L1103.3 185.1 L1103.5 183.4 L1103.6 181.2 L1103.8 179.5 L1103.9 177.2 L1104.1 175.5 L1104.2 173.5 L1104.4 171.3 L1104.8 169.9 L1104.9 167.8 L1105.3 166.4 L1105.4 164.0 L1105.8 162.7 L1105.9 160.4 L1106.3 159.0 L1106.4 156.7 L1106.7 155.1 L1107.7 156.9 L1109.1 156.5 L1110.1 158.4 L1111.3 157.9 L1112.2 155.3 L1113.6 155.6 L1114.4 152.8 L1115.8 152.9 L1116.7 150.9 L1118.4 149.8 L1120.1 152.2 L1121.7 149.5 L1123.4 150.1 L1124.6 149.3 L1125.3 146.2 L1126.5 145.5 L1127.2 142.4 L1128.4 141.8 L1129.2 140.5 L1129.6 137.6 L1130.7 137.5 L1131.0 134.3 L1132.0 133.8 L1132.6 131.7 L1134.2 131.7 L1135.4 134.5 L1137.3 133.3 L1138.4 135.9 L1139.0 138.3 L1140.3 138.1 L1140.8 141.0 L1141.8 141.8 L1142.6 139.7 L1144.0 140.2 L1144.6 136.9 L1146.0 137.4 L1146.8 135.1 L1148.2 135.5 L1149.1 138.1 L1150.6 137.8 L1151.5 140.8 L1153.2 139.6 L1154.3 141.8 L1155.4 140.8 L1156.1 137.8 L1157.6 138.0 L1158.4 135.9 L1160.2 134.9 L1161.7 137.2 L1163.5 135.5 L1165.1 136.8 L1167.0 137.2 L1168.3 133.7 L1170.2 134.4 L1171.8 132.6 L1172.9 130.4 L1174.6 131.1 L1175.5 127.7 L1177.3 128.5 L1178.5 126.7 L1180.3 125.5 L1181.7 128.6 L1183.5 128.4 L1184.3 126.0 L1185.9 127.3 L1186.8 125.1 L1188.6 125.3 L1190.0 128.2 L1191.9 127.2 L1193.3 129.9 L1195.1 130.1 L1196.9 129.8 L1198.4 132.2 L1200.1 131.7 L1201.2 129.3 L1203.1 131.2 L1203.9 127.3 L1205.6 128.4 L1206.8 126.7 L1208.5 125.6 L1210.2 128.1 L1211.8 125.5 L1213.5 127.6 L1215.2 125.9 L1217.0 126.1 L1218.3 129.5 L1220.3 128.5 L1221.8 130.1 L1223.1 132.5 L1224.9 131.8 L1226.1 134.4 L1227.7 135.1 L1228.4 133.1 L1229.5 132.5 L1230.0 129.5 L1231.1 128.8 L1231.8 126.7 L1233.6 125.9 L1235.1 128.9 L1236.8 127.6 L1237.8 129.0 L1238.4 131.7 L1239.4 132.7 L1240.1 135.1 L1241.2 136.0 L1241.9 138.4 L1243.0 140.6 L1244.6 140.1 L1245.8 142.4 L1247.3 142.6 L1248.5 144.3 L1250.3 145.1 L1251.8 142.3 L1253.6 143.9 L1255.2 142.6 L1255.9 140.4 L1257.0 139.5 L1257.5 136.6 L1258.7 136.0 L1259.2 133.0 L1260.2 131.7 L1260.9 130.1 L1261.4 127.8 L1262.2 126.6 L1262.7 124.2 L1263.9 125.1 L1264.6 127.9 L1265.9 128.2 L1266.9 130.1 L1268.5 131.7 L1270.2 129.6 L1271.8 132.2 L1273.5 130.9 L1274.4 132.2 L1274.9 134.9 L1275.8 136.1 L1276.2 138.6 L1277.2 139.5 L1277.7 142.2 L1278.6 143.4 L1280.3 142.8 L1281.9 144.6 L1283.6 142.6 L1285.2 144.3 L1286.7 143.8 L1287.8 141.4 L1289.4 141.5 L1290.4 138.7 L1291.9 138.4 L1293.5 139.7 L1295.4 139.1 L1296.8 141.8 L1298.7 140.8 L1300.2 142.6 L1301.8 143.9 L1303.7 142.8 L1305.1 145.9 L1307.1 144.1 L1308.5 146.8 L1310.2 146.8 L1311.3 144.8 L1312.9 145.4 L1313.8 142.7 L1315.3 142.6 L1316.2 144.3 L1317.4 144.4 L1318.0 147.5 L1319.4 147.3 L1320.3 149.3 L1322.0 149.3 L1323.5 146.7 L1325.4 147.7 L1326.9 145.5 L1328.6 145.1 L1329.3 147.4 L1330.3 148.1 L1331.0 150.4 L1332.0 151.5 L1332.7 153.8 L1333.6 155.1 L1335.4 154.6 L1336.9 156.8 L1338.7 156.4 L1340.3 157.6 L1341.8 159.6 L1343.7 159.1 L1345.2 161.2 L1346.9 161.8 L1347.5 159.7 L1348.5 158.8 L1349.0 156.4 L1349.9 155.5 L1350.5 153.2 L1351.4 152.3 L1351.9 150.1 L1353.2 148.3 L1354.8 148.9 L1356.1 147.6 L1356.9 149.2 L1357.5 151.5 L1358.4 152.6 L1358.9 155.0 L1359.8 156.3 L1360.3 158.6 L1361.1 160.1 L1361.8 161.6 L1362.3 163.8 L1363.1 164.7 L1363.6 166.8 L1365.0 165.9 L1366.0 163.6 L1367.5 163.8 L1368.6 161.8 L1369.2 163.3 L1369.6 165.5 L1370.4 166.4 L1370.8 168.7 L1371.5 169.9 L1372.0 171.8 L1373.5 171.4 L1374.6 168.6 L1376.3 168.6 L1377.3 165.9 L1379.1 166.3 L1380.3 164.3 L1382.0 163.8 L1383.6 165.5 L1385.3 165.1 L1386.4 166.4 L1387.1 168.8 L1388.3 169.5 L1389.0 172.3 L1390.2 172.9 L1390.9 175.7 L1392.0 176.8 L1393.5 176.9 L1394.6 179.2 L1396.1 179.1 L1397.2 181.7 L1398.7 181.8 L1399.2 183.3 L1399.6 185.5 L1400.1 187.0 L1400.5 189.2 L1401.1 190.5 L1401.5 192.7 L1402.0 194.3 L1403.5 193.2 L1405.3 193.7 L1406.7 191.6 L1408.4 192.0 L1410.0 191.0 L1411.9 190.2 L1413.9 191.5 L1415.8 190.1 L1416.4 191.7 L1416.8 194.2 L1417.5 195.5 L1417.8 197.9 L1418.5 199.2 L1418.9 201.7 L1419.5 203.2 L1420.0 205.1 L1421.6 206.8 L1423.4 206.3 L1424.9 208.4 L1426.7 208.5 L1428.3 207.4 L1430.1 208.2 L1431.6 206.0 L1433.4 207.3 L1435.0 206.0 L1436.6 206.6 L1437.8 208.7 L1439.5 208.6 L1440.9 210.1 L1441.3 212.1 L1441.9 213.3 L1442.2 215.3 L1442.8 216.6 L1443.2 218.6 L1443.8 219.9 L1444.2 221.8 L1444.8 223.9 L1445.7 224.9 L1446.2 227.0 L1447.1 228.2 L1447.6 230.4 L1448.4 231.8 L1448.7 233.7 L1449.1 235.7 L1449.5 237.5 L1449.8 239.6 L1450.2 241.2 L1450.5 243.4 L1450.9 245.2 L1452.4 245.6 L1453.7 247.2 L1455.3 247.1 L1456.7 248.5 L1457.7 247.8 L1458.3 245.6 L1459.3 245.2 L1460.0 243.5 L1460.8 244.9 L1461.3 247.0 L1462.1 248.2 L1462.6 250.4 L1463.4 251.9 L1464.1 253.3 L1464.6 255.5 L1465.3 256.6 L1465.8 258.7 L1466.6 260.0 L1467.1 262.0 L1467.8 263.3 L1468.4 265.2 L1469.7 266.8 L1471.3 266.9 L1472.6 268.5 L1473.1 270.5 L1473.8 272.2 L1474.3 274.5 L1475.0 276.0 L1475.5 278.3 L1476.2 279.8 L1476.7 281.9 L1477.2 283.7 L1477.8 285.0 L1478.1 287.0 L1478.7 288.3 L1479.1 290.3 L1479.6 291.8 L1480.1 293.6 L1481.5 292.8 L1482.6 290.5 L1484.1 289.8 L1485.3 287.8 L1486.7 286.9 L1488.3 288.2 L1490.2 287.9 L1491.7 289.7 L1493.4 290.2 L1494.8 289.4 L1496.4 290.2 L1497.7 288.3 L1499.2 288.6 L1500.0 290.4 L1501.0 291.6 L1501.7 293.7 L1502.7 294.8 L1503.3 297.1 L1504.3 298.1 L1505.1 300.1 L1505.1 300.0 L1506.0 302.1 L1507.3 303.0 L1508.1 305.4 L1509.4 306.3 L1510.2 308.7 L1511.4 309.7 L1512.3 312.1 L1513.4 313.3 L1514.7 314.3 L1515.7 316.7 L1517.1 317.4 L1518.1 319.6 L1519.4 320.3 L1520.5 322.4 L1521.8 323.4 L1522.7 324.7 L1523.4 327.0 L1524.4 328.0 L1525.0 330.3 L1526.0 331.4 L1526.7 333.7 L1527.7 334.7 L1528.4 336.7 L1529.3 338.7 L1530.4 339.8 L1531.2 342.0 L1532.3 343.1 L1533.1 345.4 L1534.2 346.5 L1535.1 348.4 L1536.3 350.0 L1537.7 350.4 L1538.8 352.5 L1540.2 353.0 L1541.3 355.2 L1542.6 355.9 L1543.2 354.0 L1544.1 353.1 L1544.6 351.1 L1545.4 349.9 L1546.0 348.0 L1546.8 346.7 L1547.4 345.0 L1547.8 342.8 L1548.5 341.3 L1549.0 339.2 L1549.6 337.7 L1550.1 335.4 L1550.7 334.0 L1551.2 331.7 L1551.8 330.0 L1552.2 328.3 L1552.5 326.2 L1552.9 324.6 L1553.2 322.4 L1553.7 320.8 L1554.0 318.8 L1554.4 317.2 L1554.7 315.1 L1555.1 313.3 L1555.5 311.6 L1555.8 309.4 L1556.2 307.7 L1556.5 305.6 L1556.9 303.9 L1557.2 301.8 L1557.6 300.0 L1557.6 300.1 L1557.9 298.3 L1558.1 296.2 L1558.4 294.4 L1558.6 292.4 L1558.8 290.7 L1559.0 288.6 L1559.3 286.9 L1559.5 284.8 L1559.8 283.1 L1560.0 281.1 L1560.3 279.3 L1560.5 277.2 L1560.8 275.5 L1561.0 273.5 L1561.1 271.5 L1561.3 269.6 L1561.4 267.5 L1561.6 265.6 L1561.7 263.6 L1561.9 261.7 L1562.1 259.6 L1562.3 257.7 L1562.4 255.6 L1562.6 253.7 L1562.7 251.7 L1562.9 249.8 L1563.0 247.7 L1563.2 245.8 L1563.3 243.7 L1563.5 241.8 L1563.6 239.7 L1563.8 237.9 L1564.0 235.7 L1564.2 233.9 L1564.3 231.8 L1564.4 229.8 L1564.6 227.9 L1564.8 225.8 L1565.0 223.9 L1565.1 221.9 L1565.3 220.0 L1565.4 217.9 L1565.6 216.0 L1565.7 213.9 L1565.9 212.0 L1566.0 209.9 L1566.2 208.1 L1566.4 206.0 L1566.5 204.1 L1566.7 202.0 L1566.9 200.1 L1567.0 198.0 L1567.2 196.1 L1567.3 194.1 L1567.5 192.2 L1567.6 190.1 L1567.8 188.1 L1567.9 186.3 L1568.1 184.2 L1568.2 182.3 L1568.4 180.3 L1568.5 178.4 L1568.7 176.3 L1568.8 174.5 L1568.9 172.4 L1569.1 170.6 L1569.2 168.5 L1569.4 166.6 L1569.5 164.6 L1569.7 162.7 L1569.8 160.7 L1570.0 158.8 L1570.1 156.8 L1570.3 154.8 L1570.6 152.9 L1570.7 150.8 L1570.9 149.0 L1571.1 146.9 L1571.3 145.0 L1571.5 143.0 L1571.7 141.1 L1571.9 139.1 L1572.1 137.2 L1572.3 135.1 L1572.5 133.3 L1572.7 131.2 L1572.9 129.3 L1573.1 127.2 L1573.3 125.4 L1573.5 123.4 L1573.9 121.4 L1574.4 119.8 L1574.8 117.7 L1575.4 116.1 L1575.7 113.9 L1576.3 112.4 L1576.7 110.2 L1577.2 108.7 L1577.6 106.7 L1578.0 104.7 L1578.4 103.0 L1578.7 100.9 L1579.1 99.3 L1579.4 97.0 L1579.8 95.4 L1580.1 93.4 L1580.9 91.3 L1581.9 90.4 L1582.7 88.4 L1584.3 87.5 L1586.0 88.2 L1587.6 86.3 L1589.3 86.7 L1590.9 85.9 L1592.1 83.6 L1593.8 83.3 L1595.2 81.7 L1596.9 82.3 L1598.4 84.4 L1600.2 84.5 L1601.8 85.9 L1603.5 86.6 L1605.2 85.6 L1606.8 86.7 L1608.3 86.4 L1609.5 84.4 L1611.0 84.2 L1611.7 86.0 L1612.5 87.4 L1613.1 89.4 L1613.9 90.7 L1614.5 92.9 L1615.4 94.0 L1616.0 95.9 L1617.4 94.8 L1618.5 92.7 L1619.9 91.9 L1621.0 90.0 L1621.8 88.1 L1622.8 86.9 L1623.5 84.9 L1624.4 83.5 L1625.2 81.7 L1626.9 81.6 L1628.5 83.5 L1630.2 83.3 L1631.8 84.8 L1633.5 85.0 L1635.2 85.2 L1636.8 86.7 L1638.6 86.6 L1640.2 87.5 L1641.8 89.2 L1643.6 89.2 L1645.2 91.0 L1646.9 91.7 L1648.4 90.1 L1650.3 89.9 L1651.8 88.2 L1653.5 87.5 L1654.7 89.2 L1656.1 89.3 L1657.2 91.1 L1658.6 91.7 L1659.7 92.8 L1660.4 95.1 L1661.6 96.0 L1662.5 98.0 L1663.6 99.2 L1664.8 97.3 L1666.4 96.8 L1667.7 95.0 L1668.1 93.1 L1668.7 91.8 L1669.1 89.8 L1669.7 88.5 L1670.1 86.6 L1670.6 85.2 L1671.1 83.4 L1672.4 82.5 L1673.9 82.9 L1675.2 81.7 L1677.0 82.4 L1678.5 84.5 L1680.3 84.3 L1681.9 85.9 L1682.9 87.6 L1684.2 88.4 L1685.1 90.5 L1686.4 91.2 L1687.3 93.3 L1688.6 94.2 L1690.2 92.9 L1692.0 92.7 L1693.5 90.7 L1695.3 90.6 L1696.9 89.2 L1698.1 87.3 L1699.5 86.6 L1700.6 84.4 L1701.9 83.4 L1703.6 83.4 L1705.2 81.8 L1706.9 81.7 L1708.5 83.2 L1710.3 83.4 L1711.9 85.1 L1713.7 85.0 L1715.3 86.7 L1716.5 88.0 L1717.9 87.8 L1719.0 89.5 L1720.3 90.0 L1722.0 89.6 L1723.6 90.9 L1725.3 90.0 L1726.9 91.2 L1728.6 90.9 L1730.1 91.6 L1731.3 93.2 L1732.8 93.4 L1734.1 95.1 L1735.7 95.2 L1737.0 96.7 L1738.7 96.1 L1740.2 94.2 L1742.1 94.3 L1743.6 92.5 L1745.2 93.0 L1746.4 95.3 L1748.0 95.1 L1749.3 97.1 L1750.8 97.5 L1752.2 99.2 L1753.6 100.1 L1755.2 98.8 L1757.0 99.4 L1758.6 97.7 L1760.3 97.6 L1762.0 97.8 L1763.6 96.2 L1765.4 97.2 L1767.0 95.8 L1768.6 95.9 L1769.3 94.4 L1769.9 92.2 L1770.6 90.8 L1771.1 88.7 L1771.8 87.1 L1772.3 85.0 L1773.1 83.7 L1773.7 81.7 L1774.6 82.6 L1775.3 84.4 L1776.2 85.3 L1777.0 86.7 L1777.9 88.3 L1779.1 89.1 L1779.9 91.0 L1781.1 91.7 L1782.0 93.4 L1783.6 93.0 L1785.1 91.6 L1786.9 92.0 L1788.4 90.3 L1790.0 90.0 L1789.9 90.0 L1791.8 90.7 L1793.7 89.1 L1795.6 90.4 L1797.5 89.1 L1799.4 89.9 L1801.2 89.3 L1802.1 88.1 L1803.2 88.3 L1804.3 89.8 L1805.5 90.4 L1806.5 92.3 L1807.9 92.4 L1809.0 94.1 L1810.2 95.4 L1811.6 95.7 L1812.8 97.0 L1814.4 97.0 L1815.7 94.9 L1817.2 95.1 L1818.6 94.1 L1819.9 92.8 L1821.3 92.4 L1822.5 91.2 L1822.8 89.2 L1823.2 87.6 L1823.5 85.6 L1824.0 84.1 L1824.3 82.1 L1824.7 80.5 L1825.0 78.4 L1825.4 76.7 L1827.1 77.2 L1828.7 75.4 L1830.5 76.4 L1832.2 75.7 L1833.6 74.9 L1835.1 75.6 L1836.4 73.8 L1837.9 73.8 L1839.4 73.5 L1840.4 71.3 L1841.8 70.9 L1843.3 71.1 L1844.6 69.2 L1846.2 70.1 L1847.6 69.0 L1848.9 70.1 L1850.0 72.1 L1851.3 72.9 L1852.4 74.8 L1854.0 75.6 L1855.7 74.8 L1857.3 75.7 L1858.8 75.8 L1860.1 73.9 L1861.7 74.2 L1863.1 72.8 L1864.6 71.9 L1866.2 72.3 L1867.6 70.4 L1869.3 70.9 L1870.8 69.9 L1872.3 70.1 L1873.6 72.2 L1875.2 71.5 L1876.6 72.8 L1877.3 74.7 L1878.2 75.7 L1878.9 77.6 L1879.7 78.8 L1880.4 80.6 L1881.3 82.1 L1882.4 82.7 L1883.3 84.5 L1884.3 85.4 L1885.2 83.7 L1886.3 82.9 L1887.1 80.7 L1888.2 79.8 L1889.1 77.9 L1890.1 76.7 L1891.1 75.8 L1891.9 73.8 L1893.0 72.8 L1894.5 73.2 L1895.8 71.4 L1897.4 71.8 L1898.8 70.9 L1899.8 69.0 L1901.1 68.2 L1902.2 66.6 L1903.6 67.4 L1904.7 69.6 L1906.3 70.0 L1907.5 71.9 L1908.4 73.9 L1909.5 74.9 L1910.3 77.1 L1911.3 78.6 L1912.4 79.6 L1913.2 81.7 L1914.3 82.4 L1915.1 84.5 L1916.2 85.4 L1917.3 86.1 L1918.0 88.0 L1919.1 88.7 L1920.0 90.2 L1921.4 89.3 L1922.5 87.3 L1923.9 86.4 L1925.5 87.3 L1927.2 87.2 L1928.7 88.3 L1929.9 87.0 L1930.9 84.8 L1932.3 84.0 L1933.3 81.9 L1934.5 80.6 L1935.3 79.1 L1935.8 77.0 L1936.6 75.8 L1937.2 73.8 L1938.0 72.4 L1938.6 70.5 L1939.4 69.0 L1940.2 67.7 L1940.8 65.4 L1941.7 64.2 L1942.4 62.1 L1943.2 60.8" fill="none" stroke="#000" stroke-width="6.2" stroke-linejoin="round" stroke-linecap="round"/>
<path d="M288.0 56.5 L288.7 58.7 L290.0 58.7 L290.4 62.1 L291.8 61.8 L292.5 64.0 L292.6 66.0 L292.7 67.8 L292.7 69.9 L292.8 71.7 L292.8 73.8 L292.9 75.6 L293.0 77.7 L293.1 79.5 L293.1 81.6 L293.2 83.4 L293.2 85.5 L293.3 87.4 L293.4 89.4 L293.5 91.2 L293.5 93.3 L293.6 95.1 L293.7 97.2 L293.8 99.0 L293.8 101.1 L293.9 102.9 L293.9 105.0 L294.0 106.8 L294.1 108.8 L294.2 110.7 L294.2 112.8 L294.3 114.6 L294.4 116.7 L294.5 118.5 L294.5 120.6 L294.6 122.4 L294.6 124.5 L294.7 126.3 L294.8 128.4 L294.9 130.2 L294.9 132.3 L295.0 134.1 L295.0 136.1 L295.1 138.0 L295.2 140.0 L295.2 142.0 L295.3 143.9 L295.3 146.0 L295.4 147.8 L295.4 149.9 L295.5 151.8 L295.5 153.8 L295.6 155.7 L295.6 157.8 L295.7 159.7 L295.7 161.7 L295.8 163.6 L295.8 165.7 L295.9 167.6 L295.9 169.6 L296.0 171.5 L296.0 173.5 L296.1 175.4 L296.1 177.5 L296.2 179.4 L296.2 181.4 L296.3 183.3 L296.3 185.3 L296.4 187.3 L296.4 189.3 L296.5 191.2 L296.5 193.3 L296.6 195.2 L296.6 197.2 L296.7 199.1 L296.7 201.1 L296.8 203.0 L296.8 205.1 L296.9 207.0 L297.0 208.9 L297.0 211.0 L297.1 212.9 L297.1 214.9 L297.2 216.9 L297.2 218.9 L297.3 220.8 L297.3 222.9 L297.4 224.8 L297.4 226.8 L297.5 228.7 L297.5 230.8 L297.6 232.7 L297.6 234.7 L297.7 236.6 L297.7 238.7 L297.8 240.6 L297.8 242.7 L297.9 244.6 L297.9 246.6 L298.0 248.5 L298.0 250.6 L298.1 252.5 L298.1 254.5 L298.2 256.4 L298.2 258.5 L298.3 260.4 L298.3 262.5 L298.4 264.3 L298.4 266.4 L298.5 268.3 L298.5 270.3 L298.6 272.3 L298.6 274.3 L298.7 276.2 L298.7 278.3 L298.8 280.2 L298.8 282.2 L298.9 284.1 L298.9 286.2 L299.0 288.1 L299.0 290.2 L299.1 292.0 L299.1 294.1 L299.2 296.0 L299.2 298.0 L299.3 300.0 L299.3 302.0 L299.3 304.0 L299.3 306.0 L299.3 308.0 L299.4 309.9 L299.4 312.0 L299.4 313.9 L299.4 315.9 L299.4 317.9 L299.4 319.9 L299.4 321.9 L299.4 323.9 L299.5 325.9 L299.5 327.9 L299.5 329.9 L299.5 331.9 L299.5 333.9 L299.5 335.9 L299.5 337.8 L299.5 339.8 L299.6 341.8 L299.6 343.8 L299.6 345.8 L299.6 347.8 L299.6 349.8 L299.6 351.8 L299.6 353.8 L299.6 355.8 L299.7 357.8 L299.7 359.8 L299.7 361.7 L299.7 363.7 L299.7 365.7 L299.7 367.7 L299.7 369.7 L299.7 371.7 L299.7 373.7 L299.8 375.7 L299.8 377.7 L299.8 379.7 L299.8 381.7 L299.8 383.7 L299.8 385.6 L299.8 387.7 L299.8 389.6 L299.8 391.6 L299.9 393.6 L299.9 395.6 L299.9 397.6 L299.9 399.6 L299.9 401.6 L299.9 403.6 L299.9 405.6 L299.9 407.6 L300.0 409.5 L300.0 411.6 L300.0 413.5 L300.0 415.5 L300.0 417.5 L300.0 419.5 L300.0 421.5 L300.0 423.5 L300.1 425.5 L300.1 427.5 L300.1 429.5 L300.1 431.5 L300.1 433.5 L300.1 435.5 L300.1 437.4 L300.1 439.5 L300.2 441.4 L300.2 443.4 L300.2 445.4 L300.2 447.4 L300.2 449.4 L300.2 451.4 L300.2 453.4 L300.2 455.4 L300.2 457.4 L300.3 459.4 L300.3 461.3 L300.3 463.4 L300.3 465.3 L300.3 467.3 L300.3 469.3 L300.3 471.3 L300.3 473.3 L300.4 475.3 L300.4 477.3 L300.4 479.3 L300.4 481.3 L300.4 483.3 L300.4 485.2 L300.4 487.3 L300.4 489.2 L300.5 491.2 L300.5 493.2 L300.5 495.2 L300.5 497.2 L300.5 499.2 L300.5 501.2 L300.5 503.2 L300.5 505.2 L300.5 507.2 L300.6 509.2 L300.6 511.2 L300.6 513.1 L300.6 515.1 L300.6 517.1 L300.6 519.1 L300.6 521.1 L300.6 523.1 L300.7 525.1 L300.7 527.1 L300.7 529.1 L300.7 531.1 L300.7 533.1 L300.7 535.1 L300.7 537.0 L300.7 539.1 L300.8 541.0 L300.8 543.0 L300.8 545.0 L300.8 547.0 L300.8 549.0 L300.8 547.0 L300.8 545.0 L300.8 543.0 L300.8 541.1 L300.8 539.1 L300.8 537.1 L300.8 535.1 L300.8 533.1 L300.8 531.1 L300.8 529.1 L300.8 527.1 L300.8 525.2 L300.8 523.2 L300.8 521.2 L300.8 519.2 L300.8 517.2 L300.8 515.2 L300.8 513.2 L300.7 511.3 L300.7 509.3 L300.7 507.3 L300.7 505.3 L300.7 503.3 L300.7 501.3 L300.7 499.3 L300.7 497.3 L300.7 495.4 L300.7 493.4 L300.7 491.4 L300.7 489.4 L300.7 487.4 L300.7 485.4 L300.7 483.4 L300.7 481.5 L300.7 479.5 L300.7 477.5 L300.7 475.5 L300.7 473.5 L300.7 471.5 L300.7 469.5 L300.7 467.5 L300.7 465.6 L300.7 463.6 L300.7 461.6 L300.7 459.6 L300.7 457.6 L300.7 455.6 L300.7 453.6 L300.7 451.7 L300.7 449.7 L300.7 447.7 L300.7 445.7 L300.7 443.7 L300.7 441.7 L300.7 439.7 L300.7 437.7 L300.6 435.8 L300.6 433.8 L300.6 431.8 L300.6 429.8 L300.6 427.8 L300.6 425.8 L300.6 423.8 L300.6 421.9 L300.6 419.9 L300.6 417.9 L300.6 415.9 L300.6 413.9 L300.6 411.9 L300.6 409.9 L300.6 407.9 L300.6 406.0 L300.6 404.0 L300.6 402.0 L300.6 400.0 L300.6 398.0 L300.6 396.1 L300.6 394.1 L300.6 392.2 L300.6 390.2 L300.6 388.2 L300.5 386.3 L300.5 384.3 L300.5 382.3 L300.5 380.4 L300.5 378.4 L300.5 376.5 L300.5 374.5 L300.5 372.6 L300.5 370.6 L300.5 368.6 L300.5 366.7 L300.5 364.7 L300.4 362.7 L300.4 360.8 L300.4 358.8 L300.4 356.9 L300.4 354.9 L300.4 352.9 L300.4 351.0 L300.4 349.0 L300.4 347.1 L300.4 345.1 L300.4 343.1 L300.4 341.2 L300.4 339.2 L300.4 337.3 L300.3 335.3 L300.3 333.3 L300.3 331.4 L300.3 329.4 L300.3 327.4 L300.3 325.5 L300.3 323.5 L300.3 321.6 L300.3 319.6 L300.3 317.7 L300.3 315.7 L300.3 313.7 L300.2 311.8 L300.2 309.8 L300.2 307.8 L300.2 305.9 L300.2 303.9 L300.2 302.0 L300.2 300.0 L300.2 298.0 L300.1 296.1 L300.1 294.0 L300.0 292.1 L300.0 290.1 L300.0 288.2 L299.9 286.1 L299.9 284.2 L299.8 282.2 L299.8 280.3 L299.8 278.3 L299.7 276.3 L299.7 274.3 L299.7 272.4 L299.6 270.4 L299.6 268.4 L299.5 266.4 L299.5 264.5 L299.4 262.4 L299.4 260.5 L299.4 258.5 L299.3 256.6 L299.3 254.6 L299.2 252.6 L299.2 250.6 L299.2 248.7 L299.1 246.6 L299.1 244.7 L299.0 242.7 L299.0 240.8 L298.9 238.7 L298.9 236.8 L298.9 234.8 L298.9 232.9 L298.8 230.8 L298.8 228.9 L298.7 226.9 L298.7 225.0 L298.6 222.9 L298.6 221.0 L298.9 223.3 L299.5 224.5 L299.8 226.9 L300.5 228.1 L300.7 230.7 L301.3 231.8 L301.5 234.7 L302.1 235.9 L302.5 238.0 L302.9 240.0 L303.6 240.9 L303.8 243.4 L304.5 244.5 L304.7 247.0 L305.5 247.8 L305.7 250.3 L306.3 251.5 L307.5 251.6 L308.3 254.2 L309.6 254.0 L309.9 255.6 L310.0 257.7 L310.3 259.2 L310.5 261.3 L310.8 262.6 L310.9 264.9 L311.3 266.3 L311.4 268.4 L311.7 270.0 L312.1 271.6 L312.3 274.0 L312.7 275.4 L312.9 277.7 L313.3 279.3 L313.5 281.5 L313.9 283.1 L314.1 285.4 L314.5 287.0 L315.0 288.5 L315.2 291.0 L315.7 292.4 L316.0 294.6 L316.5 296.1 L316.7 298.5 L317.2 300.0 L317.9 301.0 L318.1 304.0 L318.9 304.7 L319.2 306.9 L320.0 307.7 L320.2 310.4 L320.9 311.7 L321.6 313.0 L322.0 315.9 L322.8 317.0 L323.1 319.8 L324.0 320.8 L324.3 323.6 L325.0 325.0 L325.7 326.4 L326.0 328.9 L326.9 329.4 L327.2 332.0 L328.0 332.9 L328.4 335.0 L329.1 337.6 L330.5 337.7 L331.1 340.6 L332.3 341.2 L333.0 344.1 L334.2 344.6 L335.1 346.7 L336.0 349.4 L337.8 347.9 L338.5 351.7 L340.1 351.7 L340.5 353.2 L340.6 355.7 L341.1 357.0 L341.3 359.3 L341.8 360.6 L341.9 363.1 L342.5 364.2 L342.7 366.6 L343.2 367.9 L343.4 370.1 L343.7 372.4 L344.5 373.4 L344.7 376.3 L345.4 377.4 L345.6 380.1 L346.4 381.0 L346.7 383.4 L348.2 385.6 L350.2 382.7 L351.7 385.1 L352.1 387.4 L352.8 388.6 L353.0 391.2 L353.7 392.5 L354.0 394.9 L354.7 396.2 L355.1 398.4 L355.7 400.4 L356.6 401.3 L357.0 404.1 L358.1 404.4 L358.5 407.2 L359.6 407.6 L360.1 410.1 L360.2 412.2 L360.5 413.7 L360.6 415.9 L361.0 417.4 L361.1 419.6 L361.4 421.2 L361.5 423.5 L361.7 425.1 L363.3 425.2 L364.0 428.9 L365.8 427.5 L366.8 430.1 L366.9 432.3 L367.4 433.6 L367.6 435.8 L368.1 437.1 L368.2 439.4 L368.6 440.8 L368.8 443.0 L369.2 444.5 L369.4 446.7 L369.8 448.2 L370.1 450.1 L370.4 452.2 L370.9 453.4 L371.1 456.0 L371.7 457.3 L371.8 459.8 L372.4 460.9 L372.6 463.5 L373.2 464.6 L373.4 466.8 L373.9 469.2 L374.8 469.8 L375.1 472.4 L376.1 472.8 L376.5 475.4 L377.4 476.1 L377.7 478.8 L378.4 480.2 L379.0 481.4 L379.3 483.8 L380.0 484.8 L380.2 487.3 L380.9 488.3 L381.1 490.7 L381.8 491.8 L381.9 493.7 L382.0 495.9 L382.3 497.6 L382.3 499.8 L382.5 501.6 L382.6 503.8 L382.9 505.5 L383.0 507.7 L383.2 509.4 L383.3 511.6 L383.4 513.5 L383.8 515.2 L384.0 517.3 L384.4 518.8 L384.6 521.0 L385.0 522.3 L385.2 524.7 L385.7 525.9 L385.8 528.4 L386.2 529.8 L386.4 532.1 L386.8 533.5 L387.4 534.9 L387.7 537.6 L388.3 538.8 L388.6 541.5 L389.3 542.7 L389.5 545.5 L390.1 546.9 L390.5 548.6 L390.7 550.9 L391.3 552.1 L391.4 554.8 L392.0 556.0 L392.1 558.6 L392.6 560.1 L390.9 560.0 L391.3 561.7 L391.4 564.1 L391.7 565.7 L391.9 567.9 L392.3 569.4 L392.4 571.7 L392.8 573.4 L392.9 575.6 L393.3 577.2 L393.5 579.4 L393.8 580.9 L394.0 583.3 L394.3 585.0 L394.6 586.8 L394.7 589.1 L395.1 590.6 L395.2 593.0 L395.6 594.4 L395.7 596.9 L396.2 598.2 L396.3 600.7 L396.6 602.2 L396.8 604.4 L397.2 605.9 L397.3 608.4 L397.6 610.0 L397.9 611.8 L398.0 614.0 L398.2 615.7 L398.3 617.9 L398.6 619.5 L398.7 621.8 L399.0 623.4 L399.1 625.6 L399.4 627.3 L399.5 629.4 L399.8 631.0 L399.9 633.3 L400.1 635.1 L400.5 636.7 L400.6 639.0 L400.9 640.7 L401.1 642.9 L401.5 644.5 L401.6 646.8 L401.9 648.4 L402.1 650.7 L402.5 652.3 L402.6 654.4 L403.0 656.0 L403.1 658.4 L403.5 660.1 L403.8 661.6 L404.0 663.9 L404.4 665.3 L404.6 667.5 L405.0 669.0 L405.2 671.3 L405.7 672.5 L405.8 674.8 L406.2 676.3 L406.4 678.6 L406.8 680.1 L407.2 681.7 L407.4 684.3 L407.9 685.6 L408.1 688.0 L408.6 689.4 L408.8 691.9 L409.3 693.5 L409.5 695.1 L409.6 697.2 L410.0 698.5 L410.1 700.7 L410.4 702.1 L410.5 704.3 L410.8 705.6 L411.0 707.6 L411.9 706.8 L412.3 704.0 L413.4 703.5 L413.8 700.7 L414.8 700.1 L415.4 702.1 L416.3 702.9 L416.7 705.5 L417.6 706.5 L418.1 704.3 L418.9 703.5 L419.2 700.8 L420.0 700.0 L420.3 697.4 L421.0 696.0 L421.5 697.9 L422.6 698.1 L423.0 700.7 L423.8 701.8 L424.2 699.8 L425.0 699.0 L425.2 696.3 L425.9 695.5 L426.2 693.2 L426.8 691.8 L427.9 693.9 L429.3 694.3 L429.5 692.2 L429.9 690.9 L430.1 688.7 L430.5 687.3 L430.6 685.0 L431.0 683.4 L431.5 682.3 L431.7 679.6 L432.4 678.9 L432.6 676.8 L432.9 674.6 L433.5 673.3 L433.6 670.8 L434.1 669.4 L434.4 667.0 L434.9 665.7 L435.1 663.4 L435.3 661.2 L435.7 659.7 L435.9 657.4 L436.3 655.8 L436.5 653.5 L436.9 651.9 L437.0 649.6 L437.4 648.0 L437.6 645.7 L438.0 644.2 L438.1 641.8 L438.5 640.1 L438.8 638.3 L438.9 635.9 L439.2 634.3 L439.3 632.0 L439.7 630.4 L439.8 628.1 L440.1 626.4 L440.2 624.1 L440.6 622.5 L440.7 620.2 L441.0 618.4 L441.3 616.7 L441.4 614.3 L441.8 612.9 L442.0 610.6 L442.3 609.0 L442.4 606.6 L442.8 605.0 L443.0 602.9 L443.4 601.3 L443.5 598.9 L443.8 597.3 L444.0 595.1 L444.3 593.4 L444.6 591.7 L444.7 589.5 L445.1 588.1 L445.2 585.9 L445.5 584.4 L445.6 582.2 L446.0 580.8 L446.1 578.6 L446.4 577.2 L446.5 575.0 L446.8 573.3 L447.1 571.7 L447.2 569.3 L447.6 567.8 L447.7 565.5 L448.1 564.0 L448.2 561.7 L448.5 560.0 L448.5 560.1 L448.6 558.3 L448.7 556.2 L448.9 554.5 L448.9 552.4 L449.1 550.7 L449.2 548.6 L449.4 546.9 L449.4 544.8 L449.6 543.1 L449.6 541.0 L449.8 539.3 L449.9 537.2 L450.1 535.6 L450.2 533.5 L450.3 531.5 L450.7 529.9 L450.8 527.8 L451.1 526.2 L451.2 523.8 L451.5 522.3 L451.7 520.2 L452.0 518.5 L452.1 516.4 L452.4 514.8 L452.5 512.5 L452.9 511.0 L453.0 508.8 L453.3 507.2 L453.5 505.2 L454.0 502.9 L454.9 502.5 L455.3 499.8 L456.1 498.8 L456.5 496.3 L457.4 495.7 L457.7 492.8 L458.5 491.8 L459.3 490.5 L459.7 488.2 L460.6 487.2 L461.1 484.8 L461.8 483.5 L462.5 485.7 L463.7 486.0 L464.1 489.2 L465.3 489.7 L465.9 492.3 L466.8 493.5 L467.5 491.3 L468.6 490.6 L469.1 487.7 L470.3 487.4 L470.8 484.5 L472.1 484.4 L472.5 481.2 L473.5 480.2 L473.9 478.5 L474.0 476.2 L474.5 475.0 L474.7 472.7 L475.1 471.3 L475.2 468.9 L475.7 467.7 L475.9 465.4 L476.3 463.9 L476.4 461.6 L476.8 460.1 L477.5 458.7 L477.7 456.0 L478.4 454.8 L478.6 452.1 L479.3 450.9 L479.6 448.2 L480.2 446.8 L480.6 445.2 L480.8 442.9 L481.2 441.3 L481.4 439.1 L481.8 437.6 L482.0 435.2 L482.5 434.0 L482.7 431.8 L483.2 429.5 L484.3 428.8 L484.8 426.4 L485.7 425.6 L486.2 423.0 L487.3 422.6 L487.6 419.5 L488.5 418.4 L489.7 417.6 L490.2 414.0 L491.7 414.0 L492.3 411.0 L493.5 410.1 L495.1 409.8 L496.0 406.4 L497.8 407.4 L498.8 404.1 L500.8 406.1 L501.9 403.4 L502.4 401.1 L503.7 401.4 L504.2 399.0 L505.2 398.4 L506.3 400.9 L508.0 399.7 L509.0 402.6 L510.8 401.3 L511.9 403.4 L513.0 402.7 L513.4 399.4 L514.6 399.3 L515.1 396.2 L516.3 395.9 L516.9 393.4 L517.3 391.2 L518.0 390.1 L518.2 387.5 L518.9 386.3 L519.2 383.6 L519.9 382.4 L520.2 380.1 L520.6 377.8 L521.4 376.6 L521.7 373.9 L522.5 373.0 L522.9 370.5 L523.6 369.2 L524.0 366.7 L524.8 365.7 L525.2 363.4 L525.5 361.2 L526.0 359.9 L526.2 357.5 L526.8 356.2 L527.0 353.9 L527.5 352.5 L527.7 350.0 L528.3 348.9 L528.6 346.7 L529.3 344.2 L530.7 343.8 L531.4 341.0 L532.8 341.0 L533.6 338.4 L534.4 336.3 L535.7 336.4 L536.2 333.3 L537.5 333.1 L538.0 330.0 L539.5 330.8 L540.2 328.4 L540.8 326.3 L541.7 325.6 L542.0 322.9 L542.9 322.1 L543.2 319.5 L544.1 318.8 L544.5 316.2 L545.2 315.0 L546.4 314.0 L547.0 310.8 L548.4 310.6 L549.1 307.8 L550.2 306.7 L552.1 307.5 L553.4 303.9 L555.5 306.1 L556.7 301.9 L558.8 304.1 L560.3 301.7 L561.9 300.1 L563.7 302.9 L565.2 299.8 L567.0 301.3 L568.6 300.0 L566.9 298.7 L565.4 300.8 L563.5 296.9 L562.0 299.2 L560.2 296.5 L558.7 299.2 L556.9 296.9 L557.8 294.5 L559.3 294.7 L560.1 292.0 L561.5 292.0 L562.3 289.3 L563.6 288.6 L565.2 290.3 L567.0 288.5 L568.4 291.8 L570.3 290.2 L570.9 287.9 L571.9 287.1 L572.3 284.0 L573.4 283.5 L573.8 280.2 L574.8 279.6 L575.3 276.8 L576.3 275.9 L576.9 273.5 L578.4 273.9 L579.4 276.6 L581.2 275.1 L582.0 279.3 L583.6 278.5 L584.1 276.1 L585.2 275.5 L585.5 272.5 L586.5 271.6 L587.0 269.1 L587.9 268.2 L588.3 265.3 L589.3 264.4 L589.7 261.8 L590.7 261.0 L591.1 258.0 L591.9 256.9 L593.4 259.5 L595.5 257.4 L596.8 260.7 L598.9 259.3 L600.3 261.9 L602.0 262.6 L602.9 258.7 L604.8 260.1 L605.8 256.8 L607.6 257.9 L608.6 254.7 L610.3 255.2 L611.7 255.2 L612.3 251.5 L613.9 252.1 L614.5 248.4 L616.0 248.9 L617.0 246.8 L618.5 246.6 L619.2 250.5 L620.9 249.9 L622.0 251.9 L622.7 250.4 L623.2 247.9 L624.1 247.0 L624.4 244.1 L625.3 243.3 L625.6 240.4 L626.6 239.7 L627.0 237.0 L627.8 236.0 L628.2 233.2 L629.1 232.4 L629.5 229.6 L630.3 228.5 L631.4 230.7 L633.2 229.2 L634.1 232.8 L635.8 231.6 L637.0 233.5 L638.1 232.8 L638.4 229.2 L639.7 229.4 L640.1 226.1 L641.3 225.6 L641.8 222.6 L643.0 222.4 L643.4 219.2 L644.6 219.0 L645.3 216.8 L646.1 214.4 L647.4 214.4 L648.0 211.3 L649.3 210.9 L650.0 208.5 L650.5 206.5 L651.2 205.4 L651.6 203.2 L652.4 202.5 L652.6 199.5 L653.3 198.5 L655.2 198.9 L656.5 195.4 L658.6 196.8 L660.0 194.3 L661.5 193.9 L662.3 197.4 L664.0 196.2 L665.0 198.5 L666.6 198.4 L667.4 195.2 L668.9 195.0 L669.8 191.9 L671.4 192.2 L672.5 190.1 L673.0 188.0 L673.9 187.3 L674.2 184.8 L675.0 184.0 L675.4 181.4 L676.2 180.7 L676.7 178.5 L677.6 176.5 L679.2 177.4 L680.0 175.1 L681.7 174.6 L683.3 177.4 L685.0 176.0 L686.6 176.2 L687.6 179.8 L689.6 177.8 L690.9 180.1 L692.6 180.1 L693.7 176.7 L695.6 177.9 L696.6 174.1 L698.4 174.3 L699.5 176.8 L701.4 175.1 L702.3 178.8 L704.3 177.0 L705.0 181.4 L706.7 181.0 L707.3 178.5 L708.6 178.5 L709.0 175.7 L710.3 175.5 L710.6 172.2 L711.9 172.4 L712.6 170.1 L714.5 169.0 L716.2 172.3 L718.3 169.4 L720.1 171.8 L721.6 171.3 L722.6 168.5 L724.3 169.1 L725.1 165.0 L726.7 165.1 L727.3 167.6 L728.4 167.9 L728.8 171.1 L729.9 171.6 L730.3 174.5 L731.4 175.2 L731.9 177.7 L733.0 178.5 L733.4 181.4 L734.5 182.0 L735.1 184.3 L736.8 184.2 L738.2 181.0 L740.3 183.2 L741.6 180.0 L743.4 180.1 L744.9 179.6 L745.9 176.5 L747.6 176.9 L748.6 174.2 L750.1 173.5 L751.0 172.3 L751.2 169.0 L752.3 168.5 L752.6 165.4 L753.4 164.3 L754.7 166.4 L756.6 164.9 L757.6 168.4 L759.4 167.1 L760.3 170.9 L762.3 169.1 L763.4 171.8 L764.3 173.7 L765.6 173.6 L766.2 176.6 L767.5 176.6 L767.9 180.1 L769.3 179.9 L770.1 181.8 L771.2 180.7 L771.9 177.9 L773.1 177.4 L773.8 174.7 L775.1 174.5 L775.6 170.8 L776.8 170.1 L778.6 170.8 L780.0 167.8 L781.8 168.4 L783.3 170.7 L785.2 169.4 L786.7 171.7 L788.5 171.8 L789.7 172.3 L790.1 175.5 L791.4 175.8 L791.9 179.2 L793.4 178.6 L793.8 182.0 L795.1 182.3 L795.7 185.0 L796.8 186.0 L797.5 183.3 L799.0 183.9 L799.5 180.8 L800.9 180.8 L801.4 177.5 L802.7 177.4 L803.5 175.1 L804.3 173.1 L805.7 173.4 L806.0 169.6 L807.4 170.0 L808.0 167.0 L809.3 167.1 L810.1 165.1 L810.7 162.5 L811.9 162.1 L812.5 159.7 L813.7 159.2 L814.2 156.2 L815.4 156.0 L815.7 152.5 L816.8 151.8 L817.3 154.2 L818.2 155.1 L818.6 157.9 L819.7 158.4 L820.0 161.4 L820.9 162.5 L821.4 165.0 L822.3 166.0 L822.6 168.9 L823.5 170.1 L825.1 170.3 L826.2 173.1 L827.9 172.4 L829.0 175.8 L830.9 174.0 L831.9 177.6 L833.5 177.6 L834.6 175.2 L836.5 176.8 L837.3 172.9 L839.0 173.8 L840.2 171.8 L840.6 169.6 L841.3 168.5 L841.5 165.6 L842.2 164.4 L842.4 161.8 L843.1 160.6 L843.5 158.4 L845.2 157.7 L846.0 161.6 L847.7 160.2 L848.6 163.7 L850.2 163.4 L851.2 164.4 L851.9 167.2 L853.2 167.1 L853.8 169.8 L855.2 169.5 L855.8 172.5 L856.8 173.5 L857.8 174.6 L858.3 177.6 L859.5 178.0 L860.0 180.6 L861.2 181.1 L861.7 183.9 L862.9 184.2 L863.5 186.8 L864.8 186.2 L865.3 183.1 L866.6 182.5 L867.1 179.2 L868.5 179.1 L869.0 175.7 L870.2 175.1 L871.6 175.5 L872.6 172.6 L874.2 173.9 L875.2 171.8 L875.7 169.5 L876.7 168.9 L877.0 166.1 L878.1 165.8 L878.5 163.4 L879.2 164.6 L879.5 167.3 L880.4 167.8 L880.6 170.7 L881.5 171.3 L881.9 173.5 L882.4 176.0 L883.4 176.4 L883.8 179.2 L884.8 179.7 L885.3 182.4 L886.3 183.0 L886.9 185.1 L888.4 186.9 L890.3 184.1 L891.7 188.2 L893.7 185.0 L895.1 188.3 L896.9 187.6 L898.7 187.3 L900.1 190.5 L902.1 189.2 L903.4 192.8 L905.3 191.8 L906.9 193.5 L907.8 195.9 L909.4 195.1 L910.0 198.6 L911.6 197.8 L912.3 201.1 L913.6 201.8 L915.3 201.4 L916.8 203.7 L918.7 202.1 L920.1 205.4 L922.0 203.3 L923.6 205.1 L924.7 207.1 L926.5 205.6 L927.5 208.8 L929.2 207.5 L930.2 210.1 L930.9 212.4 L932.1 212.5 L932.5 215.6 L933.7 215.7 L934.3 218.3 L935.3 219.3 L936.2 217.3 L937.6 217.4 L938.4 214.8 L939.9 215.4 L940.6 212.1 L941.9 211.8 L942.8 213.8 L944.2 213.5 L944.8 216.4 L946.2 216.0 L946.9 218.5 L948.5 218.0 L949.5 215.1 L951.2 215.5 L952.2 212.2 L954.2 213.7 L955.3 211.0 L956.8 210.9 L957.6 214.1 L959.2 213.8 L960.3 216.0 L961.8 215.8 L962.8 212.8 L964.6 214.1 L965.5 210.7 L966.9 210.1 L968.0 209.1 L968.4 206.0 L969.7 206.1 L970.2 203.0 L971.3 202.4 L971.9 200.1 L973.4 197.7 L975.4 199.2 L977.0 197.6 L977.6 195.6 L978.9 195.6 L979.3 192.6 L980.5 192.2 L981.0 189.4 L982.0 188.5 L983.8 188.9 L985.2 186.0 L987.1 186.7 L988.4 183.2 L990.5 186.0 L992.0 183.5 L993.7 182.0 L995.2 185.2 L997.0 183.3 L998.5 186.3 L1000.3 185.1 L1002.1 184.8 L1003.5 187.8 L1005.5 185.2 L1006.8 189.0 L1008.6 188.5 L1010.3 187.1 L1012.0 190.3 L1013.6 186.3 L1015.3 188.6 L1017.0 187.6 L1018.8 186.8 L1020.2 190.3 L1022.1 188.3 L1023.6 190.8 L1025.3 190.1 L1026.1 191.5 L1026.3 194.5 L1027.2 195.3 L1027.5 198.2 L1028.4 199.1 L1028.7 201.8 L1029.6 202.7 L1030.0 205.1 L1030.0 203.5 L1030.2 205.5 L1030.5 207.0 L1030.6 209.3 L1030.9 210.9 L1031.1 213.1 L1031.4 214.6 L1031.5 216.8 L1031.8 218.5 L1032.0 220.6 L1032.3 222.2 L1032.4 224.4 L1032.7 226.0 L1032.8 228.3 L1033.2 229.7 L1033.3 231.8 L1033.5 234.1 L1034.0 235.6 L1034.2 237.9 L1034.6 239.6 L1034.7 241.9 L1035.2 243.4 L1035.3 245.7 L1035.7 247.4 L1035.9 249.7 L1036.3 251.3 L1036.5 253.6 L1037.0 255.1 L1037.1 257.6 L1037.5 259.1 L1037.7 261.5 L1038.1 263.1 L1038.3 265.2 L1038.7 267.7 L1039.5 268.7 L1039.7 271.5 L1040.5 272.4 L1040.8 275.4 L1041.5 276.5 L1041.8 279.0 L1042.5 280.3 L1042.9 282.7 L1043.6 283.9 L1043.9 286.7 L1044.6 287.8 L1045.0 290.2 L1045.4 292.5 L1046.1 293.7 L1046.5 296.2 L1047.2 297.4 L1047.6 299.8 L1048.2 301.2 L1048.5 303.8 L1049.2 305.2 L1050.0 306.9 L1050.6 304.9 L1051.4 303.9 L1051.8 301.3 L1052.5 300.1 L1053.0 298.6 L1053.3 296.3 L1053.9 295.1 L1054.1 292.6 L1054.7 291.5 L1054.9 288.9 L1055.5 287.7 L1055.8 285.5 L1056.4 284.2 L1056.6 281.7 L1057.2 280.6 L1057.5 278.5 L1057.7 276.5 L1058.1 275.0 L1058.2 272.6 L1058.6 271.0 L1058.7 268.8 L1059.1 267.2 L1059.2 265.0 L1059.6 263.3 L1059.7 261.1 L1060.1 259.6 L1060.2 257.2 L1060.6 255.8 L1060.7 253.4 L1061.1 251.9 L1061.2 249.5 L1061.6 248.0 L1061.7 245.7 L1062.1 244.2 L1062.2 241.8 L1062.5 240.2 L1062.7 238.4 L1062.8 236.1 L1063.0 234.4 L1063.1 232.2 L1063.4 230.4 L1063.5 228.2 L1063.7 226.3 L1063.8 224.2 L1064.0 222.4 L1064.1 220.2 L1064.3 218.4 L1064.4 216.3 L1064.6 214.5 L1064.7 212.3 L1064.9 210.5 L1065.0 208.3 L1065.3 206.5 L1065.4 204.4 L1065.6 202.5 L1065.7 200.3 L1065.9 198.5 L1066.0 196.6 L1066.1 194.4 L1066.4 192.7 L1066.5 190.4 L1066.7 188.7 L1066.8 186.5 L1067.0 184.7 L1067.1 182.5 L1067.3 180.7 L1067.4 178.5 L1067.6 176.7 L1067.7 174.5 L1068.0 172.8 L1068.1 170.6 L1068.3 168.8 L1068.4 166.6 L1068.6 164.8 L1068.7 162.6 L1068.9 160.9 L1069.0 158.6 L1069.2 156.8 L1069.7 155.2 L1070.0 152.6 L1070.7 151.5 L1071.0 149.0 L1071.6 147.9 L1071.8 145.1 L1072.5 144.1 L1072.8 141.6 L1073.4 140.1 L1074.5 139.4 L1074.8 135.9 L1076.1 135.8 L1076.5 132.7 L1077.5 131.7 L1078.3 133.9 L1079.7 133.6 L1080.4 136.4 L1081.8 135.9 L1082.5 138.4 L1082.9 140.8 L1083.9 141.3 L1084.1 144.1 L1085.0 144.8 L1085.4 147.1 L1086.3 147.9 L1086.7 150.1 L1087.4 152.0 L1088.6 151.9 L1088.9 155.1 L1090.1 155.1 L1090.6 153.1 L1091.6 152.2 L1092.0 149.7 L1093.0 149.1 L1093.4 146.3 L1094.2 145.1 L1095.8 144.9 L1096.9 142.1 L1098.8 143.7 L1100.1 141.8 L1101.1 139.6 L1102.8 139.8 L1103.6 136.3 L1105.1 135.9 L1105.9 138.3 L1107.3 138.0 L1107.9 141.3 L1109.3 140.9 L1110.1 143.4 L1111.8 145.3 L1113.4 141.8 L1115.1 144.0 L1116.7 142.6 L1118.7 142.0 L1119.9 145.7 L1122.0 144.2 L1123.4 146.8 L1124.4 149.2 L1126.2 148.1 L1126.9 152.0 L1128.4 151.8 L1129.4 149.1 L1131.1 149.5 L1131.9 146.4 L1133.4 145.9 L1134.5 148.2 L1136.3 147.5 L1137.2 150.8 L1138.9 150.5 L1140.1 152.6 L1141.7 153.6 L1142.9 150.0 L1144.6 151.7 L1145.9 150.1 L1146.9 151.3 L1147.5 153.9 L1148.6 154.7 L1149.1 157.4 L1150.2 158.0 L1150.8 160.5 L1151.8 161.8 L1153.5 161.9 L1155.0 164.2 L1157.0 162.8 L1158.4 165.1 L1159.4 167.0 L1160.9 167.1 L1161.5 170.3 L1163.1 169.8 L1163.9 172.6 L1165.1 173.5 L1166.6 173.4 L1167.3 177.2 L1169.0 176.7 L1170.1 178.5 L1170.5 180.4 L1171.2 181.4 L1171.4 183.9 L1172.1 184.8 L1172.4 187.2 L1173.1 188.2 L1173.5 190.1 L1174.5 192.5 L1176.1 191.9 L1177.0 194.7 L1178.5 195.1 L1179.1 192.7 L1180.3 192.6 L1180.8 189.4 L1182.0 189.1 L1182.5 186.3 L1183.5 185.1 L1184.8 185.1 L1185.5 181.9 L1186.8 181.8 L1187.3 184.1 L1188.4 184.5 L1188.9 187.1 L1189.8 188.0 L1190.2 190.7 L1191.2 191.4 L1191.8 193.5 L1193.3 193.9 L1194.7 192.0 L1196.3 193.5 L1197.6 191.8 L1198.4 193.2 L1198.7 196.2 L1199.5 197.3 L1199.9 199.9 L1200.7 201.0 L1201.1 203.7 L1201.8 205.1 L1203.4 205.4 L1204.3 208.8 L1206.0 208.5 L1206.7 209.6 L1207.0 212.0 L1207.8 213.0 L1208.1 215.4 L1208.8 216.6 L1209.3 218.5 L1210.9 219.0 L1212.1 216.2 L1213.8 219.0 L1215.2 216.8 L1216.1 218.1 L1216.7 220.6 L1217.7 221.5 L1218.5 223.5 L1219.2 225.7 L1220.3 226.3 L1220.9 229.0 L1222.0 229.7 L1222.5 232.5 L1223.5 233.5 L1225.2 231.9 L1226.8 234.5 L1228.5 232.4 L1230.2 234.8 L1231.8 233.5 L1232.9 234.5 L1233.3 237.6 L1234.5 238.0 L1235.0 240.8 L1236.0 241.8 L1237.0 242.4 L1237.5 245.2 L1238.6 245.2 L1239.4 246.8 L1240.8 247.0 L1242.1 245.1 L1243.5 245.2 L1243.9 247.4 L1244.7 248.2 L1245.1 250.5 L1245.8 251.6 L1246.2 253.8 L1246.9 255.2 L1247.5 256.7 L1247.9 258.9 L1248.6 260.0 L1249.0 262.3 L1249.7 263.2 L1250.2 265.2 L1250.7 263.5 L1251.0 261.2 L1251.7 259.9 L1252.0 257.6 L1252.6 256.1 L1252.9 253.9 L1253.5 252.6 L1253.8 250.1 L1254.4 248.5 L1254.8 250.6 L1255.4 252.1 L1255.7 254.5 L1256.4 255.7 L1256.7 258.2 L1257.3 259.6 L1257.7 261.9 L1257.9 263.9 L1258.4 265.3 L1258.5 267.6 L1259.0 269.0 L1259.2 271.1 L1259.6 272.6 L1259.8 274.8 L1260.2 276.2 L1260.4 278.4 L1260.8 279.8 L1261.0 281.9 L1261.2 283.9 L1261.6 285.3 L1261.7 287.5 L1262.1 288.9 L1262.2 291.2 L1262.6 292.7 L1262.8 294.7 L1263.1 296.3 L1263.3 298.3 L1263.5 300.1 L1261.9 300.0 L1262.5 301.7 L1262.9 304.0 L1263.7 305.2 L1264.0 307.7 L1264.7 308.9 L1265.2 311.3 L1265.8 312.7 L1266.2 315.3 L1266.9 316.7 L1267.5 318.2 L1268.0 320.4 L1268.8 321.2 L1269.1 323.8 L1270.0 324.6 L1270.4 327.0 L1271.0 328.4 L1272.3 326.3 L1274.2 327.9 L1275.2 324.7 L1276.9 325.0 L1277.3 323.5 L1277.6 321.2 L1278.1 319.8 L1278.3 317.4 L1278.8 316.0 L1279.1 313.7 L1279.6 312.3 L1279.8 310.1 L1280.2 308.3 L1280.4 306.5 L1280.6 304.4 L1280.8 302.6 L1280.9 300.5 L1281.2 298.8 L1281.3 296.6 L1281.5 294.9 L1281.7 292.8 L1281.9 291.0 L1282.0 288.9 L1282.3 287.2 L1282.4 285.1 L1282.6 283.3 L1282.8 281.2 L1283.0 279.5 L1283.2 277.3 L1283.4 275.6 L1283.6 273.5 L1284.5 274.7 L1285.1 277.4 L1286.1 278.2 L1286.8 280.5 L1287.7 281.9 L1287.8 283.7 L1287.9 285.5 L1288.0 287.3 L1288.1 289.2 L1288.2 290.9 L1288.2 292.8 L1288.3 294.5 L1288.4 296.4 L1288.5 298.1 L1288.6 300.0 L1289.5 302.1 L1290.8 302.6 L1291.4 305.5 L1292.7 306.0 L1293.6 308.3 L1295.3 308.6 L1296.8 306.0 L1298.6 308.0 L1300.2 306.7 L1301.8 304.7 L1303.6 306.3 L1305.2 305.0 L1306.2 306.3 L1306.8 308.9 L1307.8 309.7 L1308.5 312.0 L1309.6 312.8 L1310.2 315.0 L1311.7 314.8 L1312.6 311.9 L1314.1 311.8 L1315.3 310.0 L1316.0 311.4 L1316.4 313.9 L1317.2 314.8 L1317.6 317.1 L1318.5 318.0 L1318.9 320.4 L1319.7 321.4 L1320.3 323.4 L1321.1 325.4 L1322.5 325.2 L1323.1 328.2 L1324.4 328.0 L1325.3 330.0 L1326.0 332.1 L1327.1 332.9 L1327.7 335.3 L1328.8 336.1 L1329.3 338.9 L1330.3 340.0 L1331.5 340.8 L1332.3 343.5 L1333.7 343.6 L1334.6 346.1 L1335.9 346.5 L1336.9 348.4 L1338.1 347.7 L1338.8 345.1 L1340.1 345.0 L1340.9 342.7 L1341.9 341.7 L1342.3 340.2 L1342.6 338.2 L1343.0 336.9 L1343.2 334.8 L1343.6 333.4 L1344.8 335.4 L1346.4 334.9 L1347.5 337.1 L1349.1 336.3 L1350.3 338.4 L1351.8 340.0 L1353.7 338.8 L1355.3 340.0 L1355.7 342.2 L1356.3 343.4 L1356.6 345.8 L1357.2 347.1 L1357.6 349.4 L1358.2 350.8 L1358.5 353.2 L1359.0 354.7 L1359.5 356.7 L1360.3 355.5 L1360.7 353.0 L1361.7 352.2 L1362.1 349.6 L1363.1 348.8 L1363.6 346.7 L1364.2 344.7 L1365.2 343.9 L1365.7 341.5 L1366.6 340.5 L1367.1 337.9 L1368.0 337.0 L1368.6 335.0 L1369.1 333.0 L1370.0 332.0 L1370.4 329.7 L1371.3 328.8 L1371.7 326.5 L1372.5 325.3 L1372.9 323.0 L1373.6 321.7 L1375.2 323.0 L1377.1 322.5 L1378.5 325.2 L1380.3 325.0 L1381.4 326.3 L1382.2 328.7 L1383.5 329.5 L1384.2 332.3 L1385.3 333.4 L1385.9 334.7 L1386.2 336.9 L1386.8 338.0 L1387.1 340.3 L1387.7 341.5 L1388.1 343.6 L1388.6 345.0 L1389.6 343.4 L1390.7 342.6 L1391.5 340.6 L1392.8 340.4 L1393.7 338.4 L1394.6 339.5 L1395.3 341.9 L1396.2 343.1 L1396.9 345.4 L1398.0 346.2 L1398.7 348.4 L1400.4 348.8 L1401.9 346.4 L1403.7 347.6 L1405.3 346.7 L1407.1 346.9 L1408.4 349.4 L1410.0 350.0 L1410.0 348.4 L1411.1 349.6 L1411.9 352.3 L1413.1 352.9 L1413.9 355.3 L1415.0 356.7 L1415.8 354.6 L1417.0 353.7 L1417.8 351.5 L1418.9 350.4 L1419.7 348.1 L1420.8 347.1 L1421.7 345.0 L1423.1 345.9 L1424.2 348.3 L1425.8 348.4 L1426.9 350.7 L1428.3 351.7 L1430.0 351.2 L1431.7 352.6 L1433.4 351.7 L1433.9 353.4 L1434.4 355.6 L1435.0 357.2 L1435.4 359.5 L1436.0 360.9 L1436.4 363.1 L1437.0 364.7 L1437.5 366.7 L1438.1 368.8 L1439.0 369.7 L1439.6 372.1 L1440.5 373.1 L1441.0 375.3 L1441.9 376.5 L1442.5 378.4 L1442.9 380.4 L1443.4 382.0 L1443.7 384.2 L1444.3 385.7 L1444.6 387.9 L1445.1 389.5 L1445.4 391.7 L1445.9 393.4 L1446.8 394.6 L1447.5 397.0 L1448.5 398.0 L1449.1 400.3 L1450.0 401.8 L1450.7 403.2 L1451.1 405.3 L1451.8 406.5 L1452.2 408.6 L1452.9 409.8 L1453.4 411.8 L1455.0 413.1 L1456.8 412.3 L1458.4 413.4 L1458.7 415.5 L1459.2 417.0 L1459.4 419.2 L1459.9 420.7 L1460.2 422.8 L1460.6 424.5 L1460.9 426.5 L1461.4 428.2 L1461.7 430.1 L1462.0 432.1 L1462.5 433.6 L1462.8 435.8 L1463.2 437.4 L1463.5 439.5 L1464.0 441.1 L1464.3 443.2 L1464.7 444.9 L1465.0 446.8 L1465.4 448.8 L1465.8 450.4 L1466.1 452.5 L1466.6 454.1 L1466.9 456.2 L1467.3 457.7 L1467.6 459.9 L1468.1 461.5 L1468.4 463.5 L1468.7 465.4 L1469.0 467.0 L1469.3 469.0 L1469.6 470.7 L1469.9 472.7 L1470.2 474.3 L1470.5 476.3 L1470.8 477.9 L1471.1 480.0 L1471.5 481.5 L1471.7 483.5 L1472.0 485.4 L1472.4 487.0 L1472.6 489.1 L1473.0 490.7 L1473.2 492.7 L1473.6 494.3 L1473.8 496.4 L1474.2 497.9 L1474.4 500.0 L1474.8 501.5 L1475.1 503.5 L1475.3 505.5 L1475.7 507.1 L1475.9 509.1 L1476.3 510.7 L1476.5 512.7 L1476.9 514.3 L1477.2 516.3 L1477.5 518.0 L1477.8 520.0 L1478.1 521.6 L1478.4 523.5 L1478.7 525.4 L1479.0 527.0 L1479.3 529.1 L1479.6 530.7 L1479.9 532.7 L1480.2 534.4 L1480.5 536.4 L1480.8 538.0 L1481.1 540.0 L1481.5 541.6 L1481.7 543.5 L1482.1 545.5 L1482.5 547.1 L1482.8 549.1 L1483.3 550.7 L1483.5 552.9 L1484.0 554.4 L1484.3 556.5 L1484.7 558.1 L1485.1 560.1 L1485.9 560.0 L1486.1 562.0 L1486.4 563.7 L1486.6 565.9 L1487.0 567.6 L1487.2 569.7 L1487.5 571.5 L1487.7 573.6 L1488.0 575.3 L1488.2 577.4 L1488.5 579.1 L1488.7 581.2 L1489.0 583.0 L1489.2 585.0 L1489.4 587.0 L1489.6 588.8 L1489.8 590.8 L1490.0 592.7 L1490.2 594.7 L1490.4 596.5 L1490.6 598.6 L1490.8 600.4 L1491.0 602.4 L1491.2 604.2 L1491.3 606.2 L1491.6 608.1 L1491.7 610.0 L1492.0 612.1 L1492.4 613.9 L1492.6 616.1 L1493.0 617.9 L1493.2 620.0 L1493.6 621.8 L1493.8 624.0 L1494.2 625.7 L1494.4 627.9 L1494.8 629.7 L1495.1 631.7 L1495.3 633.8 L1495.7 635.5 L1496.0 637.7 L1496.3 639.6 L1496.6 641.6 L1496.9 643.4 L1497.2 645.6 L1497.5 647.4 L1497.8 649.5 L1498.1 651.4 L1498.4 653.4 L1498.7 655.3 L1499.0 657.0 L1499.3 659.0 L1499.7 660.6 L1499.9 662.6 L1500.3 664.2 L1500.5 666.2 L1500.9 667.9 L1501.1 669.9 L1501.5 671.5 L1501.7 673.4 L1502.0 675.4 L1502.3 677.2 L1502.6 679.3 L1502.9 681.1 L1503.1 683.3 L1503.4 685.0 L1503.7 687.2 L1504.0 688.9 L1504.2 691.0 L1504.6 692.8 L1504.8 694.9 L1505.1 696.8 L1505.4 698.7 L1505.7 700.8 L1506.0 702.6 L1506.3 704.8 L1506.6 706.6 L1506.9 708.7 L1507.2 710.5 L1507.5 712.6 L1507.8 714.4 L1508.1 716.6 L1508.4 718.5 L1508.9 720.1 L1509.3 722.3 L1509.9 723.9 L1510.2 726.0 L1510.8 727.6 L1511.2 729.7 L1511.7 731.4 L1512.1 733.4 L1512.6 735.2 L1513.1 736.9 L1513.5 739.0 L1514.0 740.6 L1514.4 742.7 L1514.9 744.3 L1515.3 746.4 L1515.9 748.0 L1516.2 750.2 L1516.8 751.8 L1517.1 753.8 L1517.3 755.9 L1517.7 757.6 L1518.0 759.8 L1518.3 761.6 L1518.6 763.7 L1518.9 765.6 L1519.2 767.7 L1519.5 769.5 L1519.8 771.6 L1520.1 773.5 L1520.4 775.2 L1520.7 777.3 L1521.0 778.9 L1521.3 780.9 L1521.6 782.6 L1521.9 784.5 L1522.2 786.2 L1522.5 788.2 L1522.9 789.8 L1523.1 791.8 L1523.4 793.5 L1524.1 795.3 L1524.6 797.5 L1525.3 799.0 L1525.8 801.3 L1526.5 802.8 L1526.9 805.2 L1527.6 806.9 L1528.1 808.6 L1528.5 810.8 L1529.1 812.3 L1529.5 814.6 L1530.0 816.1 L1530.4 818.3 L1530.9 820.1 L1530.4 818.0 L1530.0 816.3 L1529.5 814.2 L1529.1 812.6 L1528.5 810.3 L1528.1 808.8 L1527.6 806.7 L1527.9 808.6 L1528.2 810.7 L1528.6 812.3 L1528.9 814.5 L1529.2 816.3 L1529.5 818.3 L1529.9 820.1 L1530.1 822.2 L1530.5 823.9 L1530.8 826.1 L1531.1 827.8 L1531.4 829.9 L1531.8 831.7 L1532.4 833.4 L1532.8 835.6 L1533.5 837.1 L1534.0 839.3 L1534.6 840.8 L1535.1 842.9 L1535.7 844.5 L1536.2 846.7 L1536.8 848.4 L1537.2 850.1 L1537.6 852.1 L1538.1 853.6 L1538.4 855.8 L1538.9 857.3 L1539.3 859.3 L1539.7 861.0 L1540.1 863.0 L1540.6 864.5 L1540.9 866.6 L1541.4 868.1 L1541.8 870.1 L1542.2 872.0 L1542.7 873.6 L1543.1 875.7 L1543.7 877.2 L1544.0 879.3 L1544.6 880.8 L1544.9 882.9 L1545.4 884.5 L1545.8 886.6 L1546.4 888.1 L1546.8 890.1 L1547.2 892.1 L1547.8 893.6 L1548.1 895.8 L1548.7 897.3 L1549.1 899.5 L1549.6 901.0 L1550.0 903.2 L1550.5 904.7 L1551.0 906.8 L1551.2 908.7 L1551.5 910.4 L1551.8 912.4 L1552.1 914.1 L1552.3 916.1 L1552.6 917.8 L1552.9 919.8 L1553.2 921.5 L1553.5 923.5 L1553.7 925.4 L1554.0 927.1 L1554.3 929.1 L1554.6 930.8 L1554.8 932.8 L1555.2 934.5 L1555.4 936.6 L1555.7 938.2 L1556.0 940.1 L1556.2 942.1 L1556.5 943.8 L1556.8 945.8 L1557.1 947.4 L1557.3 949.5 L1557.6 951.2 L1557.9 953.2 L1558.2 954.8 L1558.5 956.8 L1558.6 958.7 L1558.9 960.4 L1559.0 962.4 L1559.2 964.2 L1559.4 966.1 L1559.6 967.8 L1559.7 969.9 L1560.0 971.6 L1560.1 973.5 L1560.4 975.4 L1560.7 977.1 L1560.9 979.2 L1561.3 980.9 L1561.5 982.8 L1561.8 984.5 L1562.1 986.5 L1562.4 988.2 L1562.6 990.2 L1562.8 992.1 L1563.0 993.8 L1563.2 995.8 L1563.4 997.6 L1563.5 999.5 L1563.8 1001.2 L1563.9 1003.2 L1564.1 1005.0 L1564.3 1006.9 L1564.5 1008.8 L1564.9 1010.5 L1565.1 1012.5 L1565.4 1014.2 L1565.7 1016.2 L1566.0 1017.9 L1566.2 1019.9 L1566.6 1021.6 L1566.8 1023.5 L1567.0 1025.5 L1567.2 1027.2 L1567.3 1029.2 L1567.6 1030.9 L1567.7 1032.9 L1567.9 1034.6 L1568.1 1036.6 L1568.3 1038.3 L1568.5 1040.2 L1568.6 1042.2 L1568.8 1044.1 L1569.0 1046.2 L1569.1 1048.1 L1569.3 1050.1 L1569.1 1048.3 L1568.8 1046.4 L1568.6 1044.7 L1568.4 1042.7 L1568.2 1041.0 L1567.9 1039.0 L1567.7 1037.4 L1567.4 1035.4 L1567.2 1033.7 L1567.0 1031.7 L1566.7 1030.0 L1566.9 1032.0 L1567.0 1033.9 L1567.2 1035.9 L1567.3 1037.8 L1567.5 1039.9 L1567.6 1041.7 L1567.8 1043.8 L1567.9 1045.7 L1568.1 1047.7 L1568.2 1049.6 L1568.3 1051.6 L1568.5 1053.5 L1568.6 1055.5 L1568.8 1057.4 L1568.9 1059.5 L1569.1 1061.3 L1569.2 1063.4 L1569.4 1065.3 L1569.6 1067.2 L1569.8 1069.2 L1570.0 1071.0 L1570.2 1073.1 L1570.4 1074.9 L1570.6 1076.9 L1570.8 1078.7 L1571.0 1080.7 L1571.2 1082.5 L1571.4 1084.6 L1571.6 1086.4 L1571.7 1088.4 L1571.9 1090.4 L1572.1 1092.2 L1572.3 1094.2 L1572.5 1096.0 L1572.7 1098.1 L1572.9 1099.9 L1573.1 1101.9 L1573.3 1103.7 L1573.5 1105.8 L1573.7 1107.6 L1573.8 1109.6 L1574.1 1111.4 L1574.2 1113.4 L1574.5 1115.4 L1574.8 1117.2 L1575.0 1119.3 L1575.3 1121.0 L1575.5 1123.1 L1575.8 1124.9 L1576.0 1127.0 L1576.3 1128.8 L1576.5 1130.8 L1576.8 1132.6 L1577.0 1134.7 L1577.3 1136.4 L1577.6 1138.4 L1577.8 1140.4 L1578.1 1142.2 L1578.3 1144.3 L1578.6 1146.1 L1578.8 1148.1 L1579.1 1149.9 L1579.4 1152.0 L1579.7 1153.7 L1579.9 1155.9 L1580.2 1157.6 L1580.4 1159.7 L1580.7 1161.5 L1580.9 1163.5 L1581.2 1165.5 L1581.6 1167.2 L1581.8 1169.4 L1582.2 1171.1 L1582.5 1173.3 L1582.9 1175.0 L1583.1 1177.2 L1583.5 1178.9 L1583.8 1181.0 L1584.1 1182.9 L1584.5 1184.7 L1584.7 1186.8 L1585.1 1188.5 L1585.4 1190.6 L1585.8 1192.3 L1586.1 1194.3 L1586.7 1196.2 L1587.5 1197.4 L1588.1 1199.1 L1589.4 1199.9 L1590.8 1199.5 L1591.3 1197.6 L1592.1 1196.6 L1592.7 1194.8 L1593.4 1193.5 L1593.8 1191.8 L1594.1 1189.7 L1594.5 1188.2 L1594.8 1186.3 L1595.3 1184.7 L1595.5 1182.6 L1595.9 1181.0 L1596.3 1179.3 L1596.5 1177.3 L1596.9 1175.7 L1597.1 1173.7 L1597.5 1172.1 L1597.8 1170.2 L1598.1 1168.5 L1598.6 1166.7 L1598.9 1164.5 L1599.4 1162.9 L1599.7 1160.7 L1600.2 1159.0 L1600.5 1156.9 L1600.9 1155.1 L1601.1 1153.2 L1601.3 1151.2 L1601.5 1149.4 L1601.7 1147.3 L1601.9 1145.5 L1602.1 1143.5 L1602.3 1141.7 L1602.5 1139.7 L1602.7 1137.8 L1602.8 1135.8 L1603.1 1134.0 L1603.2 1132.0 L1603.4 1130.1 L1603.6 1128.2 L1603.7 1126.2 L1603.8 1124.4 L1603.9 1122.4 L1604.1 1120.5 L1604.2 1118.5 L1604.3 1116.6 L1604.5 1114.6 L1604.6 1112.8 L1604.7 1110.8 L1604.9 1108.9 L1605.0 1107.0 L1605.1 1105.1 L1605.2 1103.2 L1605.3 1101.2 L1605.4 1099.3 L1605.5 1097.3 L1605.6 1095.5 L1605.7 1093.5 L1605.8 1091.6 L1605.9 1089.6 L1606.0 1087.8 L1606.1 1085.8 L1606.2 1083.9 L1606.3 1081.9 L1606.4 1080.0 L1606.5 1078.1 L1606.6 1076.2 L1606.7 1074.3 L1606.8 1072.3 L1606.9 1070.4 L1607.0 1068.5 L1607.1 1066.6 L1607.2 1064.6 L1607.3 1062.7 L1607.3 1060.8 L1607.4 1058.9 L1607.5 1056.9 L1607.6 1055.0 L1607.7 1053.1 L1607.7 1051.1 L1607.8 1049.3 L1607.9 1047.3 L1607.9 1045.4 L1608.0 1043.5 L1608.1 1041.6 L1608.1 1039.6 L1608.2 1037.7 L1608.2 1035.8 L1608.3 1033.9 L1608.4 1031.9 L1608.4 1030.0 L1608.4 1028.0 L1608.5 1026.0 L1608.5 1024.0 L1608.5 1022.0 L1608.5 1020.0 L1608.5 1018.1 L1608.5 1016.1 L1608.5 1014.1 L1608.5 1012.1 L1608.5 1010.1 L1608.5 1008.1 L1608.5 1006.1 L1608.5 1004.1 L1608.5 1002.1 L1608.5 1000.1 L1608.5 998.1 L1608.5 996.1 L1608.5 994.2 L1608.5 992.2 L1608.5 990.2 L1608.6 988.2 L1608.6 986.3 L1608.7 984.3 L1608.7 982.3 L1608.7 980.4 L1608.8 978.4 L1608.8 976.4 L1608.9 974.5 L1608.9 972.5 L1609.0 970.6 L1609.0 968.6 L1609.1 966.6 L1609.1 964.7 L1609.2 962.7 L1609.2 960.7 L1609.3 958.8 L1609.3 956.8 L1609.4 954.9 L1609.4 952.9 L1609.5 950.9 L1609.5 949.0 L1609.6 947.0 L1609.6 945.0 L1609.7 943.1 L1609.7 941.1 L1609.8 939.2 L1609.8 937.2 L1609.9 935.2 L1609.9 933.2 L1610.0 931.3 L1610.0 929.3 L1610.1 927.4 L1610.1 925.4 L1610.2 923.5 L1610.2 921.5 L1610.3 919.5 L1610.3 917.6 L1610.3 915.6 L1610.4 913.6 L1610.4 911.7 L1610.5 909.7 L1610.5 907.7 L1610.5 905.8 L1610.6 903.8 L1610.6 901.9 L1610.6 899.9 L1610.7 897.9 L1610.7 896.0 L1610.8 894.0 L1610.8 892.0 L1610.8 890.1 L1610.9 888.1 L1610.9 886.2 L1611.0 884.2 L1611.0 882.2 L1611.0 880.3 L1611.1 878.3 L1611.1 876.3 L1611.2 874.4 L1611.2 872.4 L1611.2 870.5 L1611.3 868.5 L1611.3 866.5 L1611.4 864.6 L1611.4 862.6 L1611.4 860.6 L1611.5 858.7 L1611.5 856.7 L1611.5 854.7 L1611.6 852.8 L1611.6 850.8 L1611.7 848.9 L1611.7 846.9 L1611.7 845.0 L1611.7 843.0 L1611.8 841.0 L1611.8 839.1 L1611.9 837.1 L1611.9 835.1 L1611.9 833.2 L1612.0 831.2 L1612.0 829.3 L1612.0 827.3 L1612.1 825.3 L1612.1 823.4 L1612.1 821.4 L1612.2 819.4 L1612.2 817.5 L1612.2 815.5 L1612.3 813.6 L1612.3 811.6 L1612.3 809.6 L1612.4 807.7 L1612.4 805.7 L1612.4 803.7 L1612.5 801.8 L1612.5 799.8 L1612.5 797.9 L1612.6 795.9 L1612.6 793.9 L1612.6 792.0 L1612.7 790.0 L1612.7 788.0 L1612.8 786.0 L1612.8 784.0 L1612.8 782.0 L1612.9 780.0 L1612.9 778.0 L1613.0 776.0 L1613.0 774.0 L1613.1 772.0 L1613.1 770.0 L1613.1 768.0 L1613.2 766.0 L1613.2 764.1 L1613.3 762.0 L1613.3 760.1 L1613.3 758.0 L1613.4 756.1 L1613.4 754.0 L1613.5 752.1 L1613.5 750.1 L1613.6 748.1 L1613.6 746.1 L1613.6 744.1 L1613.7 742.1 L1613.7 740.1 L1613.8 738.1 L1613.8 736.1 L1613.8 734.1 L1613.9 732.1 L1613.9 730.1 L1614.0 728.1 L1614.0 726.1 L1614.1 724.1 L1614.1 722.1 L1614.1 720.1 L1614.2 718.1 L1614.2 716.1 L1614.3 714.1 L1614.3 712.1 L1614.3 710.1 L1614.4 708.2 L1614.4 706.3 L1614.4 704.3 L1614.5 702.4 L1614.5 700.5 L1614.5 698.6 L1614.6 696.6 L1614.6 694.7 L1614.6 692.8 L1614.7 690.9 L1614.7 688.9 L1614.7 687.0 L1614.8 685.1 L1614.8 683.2 L1614.8 681.3 L1614.9 679.3 L1614.9 677.4 L1614.9 675.5 L1615.0 673.5 L1615.0 671.6 L1615.0 669.7 L1615.1 667.8 L1615.1 665.8 L1615.1 663.9 L1615.1 662.0 L1615.2 660.1 L1615.2 658.2 L1615.2 656.2 L1615.3 654.3 L1615.3 652.4 L1615.3 650.5 L1615.4 648.5 L1615.4 646.6 L1615.4 644.7 L1615.5 642.8 L1615.5 640.8 L1615.5 638.9 L1615.6 637.0 L1615.6 635.1 L1615.6 633.1 L1615.7 631.2 L1615.7 629.3 L1615.7 627.4 L1615.8 625.4 L1615.8 623.5 L1615.8 621.6 L1615.9 619.7 L1615.9 617.7 L1615.9 615.8 L1615.9 613.9 L1616.0 612.0 L1616.0 610.0 L1616.0 608.1 L1616.1 606.2 L1616.1 604.3 L1616.1 602.4 L1616.2 600.4 L1616.2 598.5 L1616.2 596.6 L1616.3 594.7 L1616.3 592.7 L1616.3 590.8 L1616.4 588.9 L1616.4 587.0 L1616.4 585.0 L1616.5 583.1 L1616.5 581.2 L1616.5 579.3 L1616.6 577.3 L1616.6 575.4 L1616.6 573.5 L1616.7 571.6 L1616.7 569.6 L1616.7 567.7 L1616.7 565.8 L1616.8 563.9 L1616.8 561.9 L1616.8 560.0 L1616.9 558.0 L1616.9 556.0 L1616.9 554.1 L1616.9 552.1 L1616.9 550.1 L1617.0 548.1 L1617.0 546.1 L1617.0 544.1 L1617.0 542.2 L1617.0 540.2 L1617.0 538.2 L1617.1 536.2 L1617.1 534.2 L1617.1 532.2 L1617.1 530.3 L1617.1 528.3 L1617.2 526.3 L1617.2 524.3 L1617.2 522.3 L1617.2 520.3 L1617.2 518.4 L1617.2 516.4 L1617.3 514.4 L1617.3 512.4 L1617.3 510.4 L1617.3 508.4 L1617.3 506.5 L1617.3 504.5 L1617.4 502.5 L1617.4 500.5 L1617.4 498.5 L1617.4 496.5 L1617.4 494.6 L1617.4 492.6 L1617.5 490.6 L1617.5 488.6 L1617.5 486.6 L1617.5 484.7 L1617.5 482.7 L1617.6 480.7 L1617.6 478.7 L1617.6 476.7 L1617.6 474.7 L1617.6 472.8 L1617.6 470.8 L1617.7 468.8 L1617.7 466.8 L1617.7 464.8 L1617.8 462.8 L1617.8 460.9 L1617.8 458.9 L1617.9 456.9 L1617.9 454.9 L1618.0 452.9 L1618.0 450.9 L1618.0 449.0 L1618.1 446.9 L1618.1 445.0 L1618.2 443.0 L1618.2 441.0 L1618.2 439.0 L1618.3 437.0 L1618.3 435.0 L1618.4 433.1 L1618.4 431.1 L1618.4 429.1 L1618.5 427.1 L1618.5 425.1 L1618.6 423.1 L1618.6 421.2 L1618.6 419.1 L1618.7 417.2 L1618.7 415.2 L1618.8 413.2 L1618.8 411.2 L1618.8 409.2 L1618.9 407.2 L1618.9 405.3 L1618.9 403.3 L1619.0 401.3 L1619.0 399.3 L1619.1 397.3 L1619.1 395.3 L1619.2 393.3 L1619.2 391.3 L1619.2 389.4 L1619.3 387.4 L1619.3 385.4 L1619.4 383.4 L1619.4 381.4 L1619.4 379.4 L1619.5 377.4 L1619.5 375.5 L1619.5 373.5 L1619.6 371.5 L1619.6 369.5 L1619.7 367.5 L1619.7 365.5 L1619.8 363.6 L1619.8 361.5 L1619.8 359.6 L1619.9 357.6 L1619.9 355.6 L1619.9 353.6 L1620.0 351.6 L1620.0 349.6 L1620.1 347.7 L1620.1 345.7 L1620.1 343.7 L1620.2 341.7 L1620.2 339.7 L1620.3 337.7 L1620.3 335.8 L1620.3 333.7 L1620.4 331.8 L1620.4 329.8 L1620.5 327.8 L1620.5 325.8 L1620.5 323.8 L1620.6 321.8 L1620.6 319.9 L1620.7 317.9 L1620.7 315.9 L1620.7 313.9 L1620.8 311.9 L1620.8 309.9 L1620.9 308.0 L1620.9 305.9 L1620.9 304.0 L1621.0 302.0 L1621.0 300.0 L1621.1 298.0 L1621.1 296.0 L1621.1 294.1 L1621.2 292.1 L1621.2 290.1 L1621.2 288.1 L1621.3 286.1 L1621.3 284.1 L1621.3 282.2 L1621.4 280.2 L1621.4 278.2 L1621.4 276.2 L1621.5 274.2 L1621.5 272.2 L1621.6 270.3 L1621.6 268.3 L1621.6 266.3 L1621.7 264.3 L1621.7 262.3 L1621.7 260.3 L1621.8 258.4 L1621.8 256.4 L1621.8 254.4 L1621.9 252.4 L1621.9 250.4 L1621.9 248.4 L1622.0 246.5 L1622.0 244.5 L1622.1 242.5 L1622.1 240.5 L1622.1 238.5 L1622.2 236.5 L1622.2 234.6 L1622.2 232.6 L1622.3 230.6 L1622.3 228.6 L1622.3 226.6 L1622.4 224.6 L1622.4 222.7 L1622.4 220.7 L1622.5 218.7 L1622.5 216.7 L1622.5 214.8 L1622.6 212.8 L1622.6 210.8 L1622.6 208.8 L1622.7 206.8 L1622.7 204.9 L1622.8 202.9 L1622.8 200.9 L1622.9 199.0 L1622.9 197.0 L1623.0 195.0 L1623.0 193.1 L1623.1 191.1 L1623.1 189.2 L1623.2 187.2 L1623.2 185.2 L1623.3 183.3 L1623.3 181.3 L1623.4 179.3 L1623.4 177.4 L1623.5 175.4 L1623.5 173.5 L1623.6 171.5 L1623.6 169.5 L1623.7 167.6 L1623.7 165.6 L1623.8 163.6 L1623.8 161.7 L1623.9 159.7 L1623.9 157.8 L1624.0 155.8 L1624.0 153.8 L1624.1 151.8 L1624.1 149.9 L1624.2 147.9 L1624.2 146.0 L1624.3 144.0 L1624.3 142.1 L1624.4 140.1 L1624.4 138.1 L1624.5 136.2 L1624.6 134.2 L1624.7 132.3 L1624.8 130.3 L1624.9 128.4 L1624.9 126.4 L1625.0 124.5 L1625.1 122.5 L1625.2 120.6 L1625.3 118.6 L1625.4 116.8 L1625.4 114.8 L1625.5 112.9 L1625.6 110.9 L1625.7 109.0 L1625.8 107.0 L1625.9 105.1 L1625.9 103.1 L1626.0 101.2 L1626.1 99.2 L1626.2 97.3 L1626.3 95.3 L1626.4 93.4 L1626.4 91.4 L1626.5 89.5 L1626.6 87.5 L1626.7 85.6 L1626.8 83.6 L1626.9 81.7 L1627.1 79.9 L1627.3 77.9 L1627.6 76.1 L1627.8 74.1 L1628.1 72.3 L1628.3 70.3 L1628.5 68.6 L1628.8 66.6 L1629.0 64.8 L1629.2 62.8 L1629.5 61.1 L1629.7 59.1 L1630.0 57.3 L1630.2 55.3 L1630.4 57.2 L1630.5 59.2 L1630.7 60.9 L1630.9 63.0 L1631.1 64.7 L1631.2 66.7 L1631.5 68.5 L1631.6 70.5 L1631.8 72.2 L1632.0 74.2 L1632.2 76.0 L1632.3 78.0 L1632.5 79.8 L1632.7 81.7 L1633.3 83.6 L1634.1 84.8 L1634.6 87.0 L1635.4 88.1 L1636.0 90.0 L1637.5 91.1 L1639.1 91.1 L1640.5 92.5 L1642.1 92.4 L1643.5 93.4 L1644.7 94.8 L1646.1 94.5 L1647.2 96.3 L1648.5 96.7 L1649.6 98.2 L1650.5 100.5 L1651.8 101.3 L1652.7 103.4 L1653.8 102.4 L1654.6 100.2 L1655.7 99.6 L1656.5 97.5 L1657.7 96.7 L1658.6 95.0 L1659.3 93.5 L1660.3 93.0 L1660.9 90.8 L1661.9 90.0 L1662.3 88.4 L1662.6 86.2 L1663.0 84.6 L1663.3 82.5 L1663.8 80.9 L1664.1 78.8 L1664.5 77.2 L1664.8 75.1 L1665.2 73.4 L1666.7 72.5 L1667.9 70.2 L1669.4 69.2 L1670.4 71.2 L1671.8 72.0 L1672.8 74.2 L1674.1 75.0 L1675.2 76.7 L1675.9 78.6 L1676.8 80.0 L1677.4 82.2 L1678.2 83.6 L1678.9 85.7 L1679.8 86.9 L1680.4 89.2 L1681.2 90.5 L1681.9 92.5 L1683.1 91.7 L1684.0 89.6 L1685.3 89.1 L1686.3 87.2 L1687.6 86.8 L1688.6 85.0 L1689.5 83.0 L1690.6 81.9 L1691.5 79.7 L1692.7 78.7 L1693.6 76.7 L1694.2 74.8 L1695.0 73.6 L1695.6 71.4 L1696.4 70.1 L1697.0 68.2 L1697.8 66.7 L1699.3 66.9 L1700.6 65.4 L1702.2 65.8 L1703.6 65.0 L1704.8 65.8 L1705.7 67.9 L1707.1 68.2 L1707.9 70.4 L1709.2 71.0 L1710.3 72.5 L1711.1 74.4 L1712.2 75.4 L1713.0 77.6 L1714.2 78.3 L1714.9 80.7 L1716.0 81.6 L1716.9 83.4 L1718.1 84.5 L1719.5 84.4 L1720.6 86.2 L1721.9 86.7 L1723.6 85.6 L1725.3 85.7 L1726.9 84.3 L1728.7 84.6 L1730.3 83.4 L1731.2 81.3 L1732.3 80.3 L1733.2 78.1 L1734.4 77.1 L1735.3 75.0 L1736.5 73.7 L1737.9 73.5 L1738.9 71.4 L1740.3 70.9 L1742.0 71.1 L1743.6 69.4 L1745.3 69.2 L1746.5 70.8 L1748.0 71.1 L1749.2 73.3 L1750.7 73.5 L1752.0 75.0 L1752.9 77.1 L1754.0 78.2 L1754.9 80.3 L1756.1 81.3 L1757.0 83.4 L1758.6 84.1 L1760.3 83.5 L1762.0 84.2 L1762.9 82.7 L1763.6 80.3 L1764.5 78.9 L1765.3 76.8 L1766.2 75.4 L1767.0 73.4 L1768.0 71.8 L1769.2 71.4 L1770.0 69.2 L1771.2 68.4 L1772.5 70.3 L1774.2 70.3 L1775.4 72.6 L1777.0 73.4 L1778.7 73.3 L1780.3 74.9 L1782.0 74.0 L1783.7 75.0 L1784.9 76.3 L1786.3 76.6 L1787.4 78.4 L1788.8 78.6 L1790.0 80.0 L1789.9 80.0 L1790.8 79.3 L1791.6 78.1 L1793.1 78.3 L1794.4 79.9 L1796.0 79.1 L1797.4 80.1 L1799.3 80.4 L1801.2 79.4 L1803.2 79.6 L1804.3 81.5 L1805.7 82.0 L1806.7 84.2 L1808.0 85.4 L1809.3 86.2 L1810.3 88.2 L1811.7 88.5 L1812.8 90.2 L1814.2 89.8 L1815.3 87.9 L1816.7 87.3 L1818.1 88.2 L1819.7 87.6 L1821.0 89.1 L1822.5 89.3 L1823.6 87.3 L1825.0 86.6 L1826.1 84.6 L1827.3 83.5 L1828.7 83.0 L1829.8 80.9 L1831.2 80.6 L1833.1 81.2 L1835.0 80.6 L1836.4 81.2 L1837.4 83.5 L1838.8 83.7 L1839.9 85.4 L1840.8 87.2 L1841.9 88.4 L1842.7 90.7 L1843.7 92.2 L1844.8 93.6 L1845.6 95.7 L1846.7 97.1 L1847.6 98.9 L1849.5 99.7 L1851.5 98.9 L1852.0 97.0 L1852.7 95.5 L1853.2 93.6 L1853.9 92.2 L1854.4 90.2 L1855.2 88.3 L1856.4 87.4 L1857.3 85.4 L1858.6 85.7 L1859.8 87.0 L1861.1 87.3 L1862.3 85.7 L1863.8 85.0 L1865.0 83.5 L1866.9 83.6 L1868.8 84.4 L1869.8 86.3 L1870.9 87.5 L1871.7 89.7 L1872.7 91.2 L1873.2 92.8 L1873.6 94.7 L1874.2 96.1 L1874.6 97.9 L1876.0 97.3 L1877.1 95.5 L1878.5 95.0 L1880.5 95.1 L1882.4 94.1 L1883.3 92.3 L1884.4 91.5 L1885.2 89.6 L1886.2 88.3 L1887.3 87.8 L1888.1 86.1 L1889.1 85.4 L1890.5 85.2 L1891.7 83.8 L1893.0 83.5 L1894.7 83.2 L1896.1 81.0 L1897.8 80.6 L1899.7 81.3 L1901.7 81.0 L1903.1 82.1 L1904.1 84.5 L1905.5 85.4 L1906.8 84.1 L1908.2 83.9 L1909.4 82.5 L1910.5 83.5 L1911.3 85.7 L1912.4 86.4 L1913.3 88.3 L1913.9 90.2 L1914.9 91.2 L1915.5 93.1 L1916.4 94.3 L1917.1 96.0 L1919.0 97.2 L1921.0 97.0 L1922.2 95.4 L1923.7 95.6 L1924.9 94.1 L1925.9 92.3 L1927.2 92.1 L1928.3 90.2 L1929.6 90.0 L1930.7 88.3 L1931.8 86.3 L1933.3 85.6 L1934.5 83.9" fill="none" stroke="#f00" stroke-width="6.4" stroke-linejoin="round" stroke-linecap="round"/>
</g>
<g id="ticklabels" class="tk">
<text transform="translate(201.9 75.4) scale(0.955 1)" text-anchor="end">100</text>
<text transform="translate(201.9 260.7) scale(0.955 1)" text-anchor="end">95</text>
<text transform="translate(201.9 446.0) scale(0.955 1)" text-anchor="end">90</text>
<text transform="translate(201.9 631.3) scale(0.955 1)" text-anchor="end">85</text>
<text transform="translate(201.9 816.5) scale(0.955 1)" text-anchor="end">80</text>
<text transform="translate(201.9 1001.8) scale(0.955 1)" text-anchor="end">75</text>
<text transform="translate(201.9 1187.1) scale(0.955 1)" text-anchor="end">70</text>
<text transform="translate(201.9 1372.4) scale(0.955 1)" text-anchor="end">65</text>
<text transform="translate(231.5 1429.8) scale(0.955 1)" text-anchor="middle">0</text>
<text transform="translate(418.7 1429.8) scale(0.955 1)" text-anchor="middle">100</text>
<text transform="translate(605.9 1429.8) scale(0.955 1)" text-anchor="middle">200</text>
<text transform="translate(793.2 1429.8) scale(0.955 1)" text-anchor="middle">300</text>
<text transform="translate(980.4 1429.8) scale(0.955 1)" text-anchor="middle">400</text>
<text transform="translate(1167.6 1429.8) scale(0.955 1)" text-anchor="middle">500</text>
<text transform="translate(1354.8 1429.8) scale(0.955 1)" text-anchor="middle">600</text>
<text transform="translate(1542.0 1429.8) scale(0.955 1)" text-anchor="middle">700</text>
<text transform="translate(1729.3 1429.8) scale(0.955 1)" text-anchor="middle">800</text>
<text transform="translate(1916.5 1429.8) scale(0.955 1)" text-anchor="middle">900</text>
<text transform="translate(2001 75.4) scale(0.955 1)" fill="#00f">0.00</text>
<text transform="translate(2001 399.6) scale(0.955 1)" fill="#00f">-0.05</text>
<text transform="translate(2001 723.9) scale(0.955 1)" fill="#00f">-0.10</text>
<text transform="translate(2001 1048.2) scale(0.955 1)" fill="#00f">-0.15</text>
<text transform="translate(2001 1372.4) scale(0.955 1)" fill="#00f">-0.20</text>
</g>
<text class="ttl" transform="translate(1157.8 1517.2) scale(1.025 1)" text-anchor="middle">Temperature <tspan dx="0">(</tspan><tspan dx="-2">°</tspan><tspan dx="-1.5">C</tspan><tspan dx="0">)</tspan></text>
<text class="ttl" transform="translate(82 689.5) rotate(-90)" text-anchor="middle">TG (%)</text>
<text class="ttl" fill="#00f" transform="translate(2235 657) rotate(-90)" text-anchor="middle">DTG (%)</text>
<g id="legend">
<path d="M292.2 965.5 H318 M354.3 965.5 H379.8 M415.8 965.5 H441.9" stroke="#000" stroke-width="7" stroke-linecap="round" fill="none" shape-rendering="crispEdges"/>
<path d="M292.2 1055.5 H318 M354.3 1055.5 H379.8 M415.8 1055.5 H441.9" stroke="#f00" stroke-width="7" stroke-linecap="round" fill="none" shape-rendering="crispEdges"/>
<path d="M278 1170.5 H441.7" stroke="#000" stroke-width="7" stroke-linecap="round" fill="none" shape-rendering="crispEdges"/>
<path d="M278 1260.5 H441.7" stroke="#f00" stroke-width="7" stroke-linecap="round" fill="none" shape-rendering="crispEdges"/>
<text class="lg" transform="translate(475.5 990) scale(0.985 1)">TG, CRP</text>
<text class="lg" transform="translate(475.5 1080.4) scale(0.985 1)">TG, CRP<tspan class="sub" dx="1" dy="24.5">1d</tspan></text>
<text class="lg" transform="translate(460.5 1195.4) scale(0.985 1)">DTG, CRP</text>
<text class="lg" transform="translate(460.5 1285.6) scale(0.985 1)">DTG, CRP<tspan class="sub" dx="1" dy="24.5">1d</tspan></text>
</g>
</svg>
</body></html>
